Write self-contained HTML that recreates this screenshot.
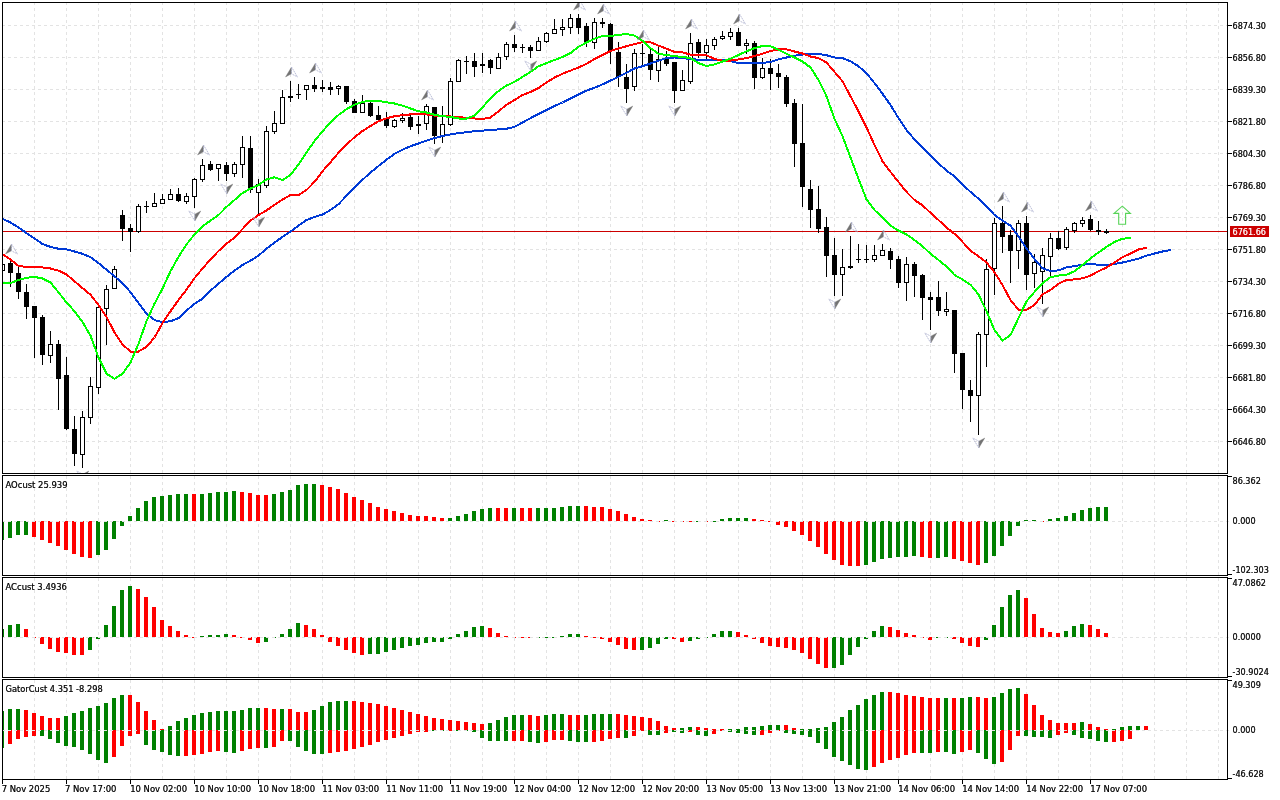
<!DOCTYPE html>
<html><head><meta charset="utf-8"><title>Chart</title>
<style>
html,body{margin:0;padding:0;background:#fff;}
body{width:1280px;height:800px;overflow:hidden;position:relative;}
svg{display:block;}
</style></head><body>
<svg width="1280" height="800" viewBox="0 0 1280 800" shape-rendering="crispEdges" style="position:absolute;left:0;top:0"><defs><clipPath id="cm"><rect x="3" y="3" width="1224" height="470"/></clipPath><clipPath id="c1"><rect x="3" y="476" width="1224" height="99"/></clipPath><clipPath id="c2"><rect x="3" y="578" width="1224" height="99"/></clipPath><clipPath id="c3"><rect x="3" y="680" width="1224" height="99"/></clipPath></defs><rect x="0" y="0" width="1280" height="800" fill="#fff"/><g stroke="#e3e3e3" stroke-width="1" fill="none"><line x1="34.5" y1="-4" x2="34.5" y2="473" stroke-dasharray="3 3" clip-path="url(#cm)"/><line x1="66.5" y1="-4" x2="66.5" y2="473" stroke-dasharray="3 3" clip-path="url(#cm)"/><line x1="98.5" y1="-4" x2="98.5" y2="473" stroke-dasharray="3 3" clip-path="url(#cm)"/><line x1="130.5" y1="-4" x2="130.5" y2="473" stroke-dasharray="3 3" clip-path="url(#cm)"/><line x1="162.5" y1="-4" x2="162.5" y2="473" stroke-dasharray="3 3" clip-path="url(#cm)"/><line x1="194.5" y1="-4" x2="194.5" y2="473" stroke-dasharray="3 3" clip-path="url(#cm)"/><line x1="226.5" y1="-4" x2="226.5" y2="473" stroke-dasharray="3 3" clip-path="url(#cm)"/><line x1="258.5" y1="-4" x2="258.5" y2="473" stroke-dasharray="3 3" clip-path="url(#cm)"/><line x1="290.5" y1="-4" x2="290.5" y2="473" stroke-dasharray="3 3" clip-path="url(#cm)"/><line x1="322.5" y1="-4" x2="322.5" y2="473" stroke-dasharray="3 3" clip-path="url(#cm)"/><line x1="354.5" y1="-4" x2="354.5" y2="473" stroke-dasharray="3 3" clip-path="url(#cm)"/><line x1="386.5" y1="-4" x2="386.5" y2="473" stroke-dasharray="3 3" clip-path="url(#cm)"/><line x1="418.5" y1="-4" x2="418.5" y2="473" stroke-dasharray="3 3" clip-path="url(#cm)"/><line x1="450.5" y1="-4" x2="450.5" y2="473" stroke-dasharray="3 3" clip-path="url(#cm)"/><line x1="482.5" y1="-4" x2="482.5" y2="473" stroke-dasharray="3 3" clip-path="url(#cm)"/><line x1="514.5" y1="-4" x2="514.5" y2="473" stroke-dasharray="3 3" clip-path="url(#cm)"/><line x1="546.5" y1="-4" x2="546.5" y2="473" stroke-dasharray="3 3" clip-path="url(#cm)"/><line x1="578.5" y1="-4" x2="578.5" y2="473" stroke-dasharray="3 3" clip-path="url(#cm)"/><line x1="610.5" y1="-4" x2="610.5" y2="473" stroke-dasharray="3 3" clip-path="url(#cm)"/><line x1="642.5" y1="-4" x2="642.5" y2="473" stroke-dasharray="3 3" clip-path="url(#cm)"/><line x1="674.5" y1="-4" x2="674.5" y2="473" stroke-dasharray="3 3" clip-path="url(#cm)"/><line x1="706.5" y1="-4" x2="706.5" y2="473" stroke-dasharray="3 3" clip-path="url(#cm)"/><line x1="738.5" y1="-4" x2="738.5" y2="473" stroke-dasharray="3 3" clip-path="url(#cm)"/><line x1="770.5" y1="-4" x2="770.5" y2="473" stroke-dasharray="3 3" clip-path="url(#cm)"/><line x1="802.5" y1="-4" x2="802.5" y2="473" stroke-dasharray="3 3" clip-path="url(#cm)"/><line x1="834.5" y1="-4" x2="834.5" y2="473" stroke-dasharray="3 3" clip-path="url(#cm)"/><line x1="866.5" y1="-4" x2="866.5" y2="473" stroke-dasharray="3 3" clip-path="url(#cm)"/><line x1="898.5" y1="-4" x2="898.5" y2="473" stroke-dasharray="3 3" clip-path="url(#cm)"/><line x1="930.5" y1="-4" x2="930.5" y2="473" stroke-dasharray="3 3" clip-path="url(#cm)"/><line x1="962.5" y1="-4" x2="962.5" y2="473" stroke-dasharray="3 3" clip-path="url(#cm)"/><line x1="994.5" y1="-4" x2="994.5" y2="473" stroke-dasharray="3 3" clip-path="url(#cm)"/><line x1="1026.5" y1="-4" x2="1026.5" y2="473" stroke-dasharray="3 3" clip-path="url(#cm)"/><line x1="1058.5" y1="-4" x2="1058.5" y2="473" stroke-dasharray="3 3" clip-path="url(#cm)"/><line x1="1090.5" y1="-4" x2="1090.5" y2="473" stroke-dasharray="3 3" clip-path="url(#cm)"/><line x1="1122.5" y1="-4" x2="1122.5" y2="473" stroke-dasharray="3 3" clip-path="url(#cm)"/><line x1="1154.5" y1="-4" x2="1154.5" y2="473" stroke-dasharray="3 3" clip-path="url(#cm)"/><line x1="1186.5" y1="-4" x2="1186.5" y2="473" stroke-dasharray="3 3" clip-path="url(#cm)"/><line x1="1218.5" y1="-4" x2="1218.5" y2="473" stroke-dasharray="3 3" clip-path="url(#cm)"/><line x1="34.5" y1="470" x2="34.5" y2="575" stroke-dasharray="3 3" clip-path="url(#c1)"/><line x1="66.5" y1="470" x2="66.5" y2="575" stroke-dasharray="3 3" clip-path="url(#c1)"/><line x1="98.5" y1="470" x2="98.5" y2="575" stroke-dasharray="3 3" clip-path="url(#c1)"/><line x1="130.5" y1="470" x2="130.5" y2="575" stroke-dasharray="3 3" clip-path="url(#c1)"/><line x1="162.5" y1="470" x2="162.5" y2="575" stroke-dasharray="3 3" clip-path="url(#c1)"/><line x1="194.5" y1="470" x2="194.5" y2="575" stroke-dasharray="3 3" clip-path="url(#c1)"/><line x1="226.5" y1="470" x2="226.5" y2="575" stroke-dasharray="3 3" clip-path="url(#c1)"/><line x1="258.5" y1="470" x2="258.5" y2="575" stroke-dasharray="3 3" clip-path="url(#c1)"/><line x1="290.5" y1="470" x2="290.5" y2="575" stroke-dasharray="3 3" clip-path="url(#c1)"/><line x1="322.5" y1="470" x2="322.5" y2="575" stroke-dasharray="3 3" clip-path="url(#c1)"/><line x1="354.5" y1="470" x2="354.5" y2="575" stroke-dasharray="3 3" clip-path="url(#c1)"/><line x1="386.5" y1="470" x2="386.5" y2="575" stroke-dasharray="3 3" clip-path="url(#c1)"/><line x1="418.5" y1="470" x2="418.5" y2="575" stroke-dasharray="3 3" clip-path="url(#c1)"/><line x1="450.5" y1="470" x2="450.5" y2="575" stroke-dasharray="3 3" clip-path="url(#c1)"/><line x1="482.5" y1="470" x2="482.5" y2="575" stroke-dasharray="3 3" clip-path="url(#c1)"/><line x1="514.5" y1="470" x2="514.5" y2="575" stroke-dasharray="3 3" clip-path="url(#c1)"/><line x1="546.5" y1="470" x2="546.5" y2="575" stroke-dasharray="3 3" clip-path="url(#c1)"/><line x1="578.5" y1="470" x2="578.5" y2="575" stroke-dasharray="3 3" clip-path="url(#c1)"/><line x1="610.5" y1="470" x2="610.5" y2="575" stroke-dasharray="3 3" clip-path="url(#c1)"/><line x1="642.5" y1="470" x2="642.5" y2="575" stroke-dasharray="3 3" clip-path="url(#c1)"/><line x1="674.5" y1="470" x2="674.5" y2="575" stroke-dasharray="3 3" clip-path="url(#c1)"/><line x1="706.5" y1="470" x2="706.5" y2="575" stroke-dasharray="3 3" clip-path="url(#c1)"/><line x1="738.5" y1="470" x2="738.5" y2="575" stroke-dasharray="3 3" clip-path="url(#c1)"/><line x1="770.5" y1="470" x2="770.5" y2="575" stroke-dasharray="3 3" clip-path="url(#c1)"/><line x1="802.5" y1="470" x2="802.5" y2="575" stroke-dasharray="3 3" clip-path="url(#c1)"/><line x1="834.5" y1="470" x2="834.5" y2="575" stroke-dasharray="3 3" clip-path="url(#c1)"/><line x1="866.5" y1="470" x2="866.5" y2="575" stroke-dasharray="3 3" clip-path="url(#c1)"/><line x1="898.5" y1="470" x2="898.5" y2="575" stroke-dasharray="3 3" clip-path="url(#c1)"/><line x1="930.5" y1="470" x2="930.5" y2="575" stroke-dasharray="3 3" clip-path="url(#c1)"/><line x1="962.5" y1="470" x2="962.5" y2="575" stroke-dasharray="3 3" clip-path="url(#c1)"/><line x1="994.5" y1="470" x2="994.5" y2="575" stroke-dasharray="3 3" clip-path="url(#c1)"/><line x1="1026.5" y1="470" x2="1026.5" y2="575" stroke-dasharray="3 3" clip-path="url(#c1)"/><line x1="1058.5" y1="470" x2="1058.5" y2="575" stroke-dasharray="3 3" clip-path="url(#c1)"/><line x1="1090.5" y1="470" x2="1090.5" y2="575" stroke-dasharray="3 3" clip-path="url(#c1)"/><line x1="1122.5" y1="470" x2="1122.5" y2="575" stroke-dasharray="3 3" clip-path="url(#c1)"/><line x1="1154.5" y1="470" x2="1154.5" y2="575" stroke-dasharray="3 3" clip-path="url(#c1)"/><line x1="1186.5" y1="470" x2="1186.5" y2="575" stroke-dasharray="3 3" clip-path="url(#c1)"/><line x1="1218.5" y1="470" x2="1218.5" y2="575" stroke-dasharray="3 3" clip-path="url(#c1)"/><line x1="34.5" y1="572" x2="34.5" y2="677" stroke-dasharray="3 3" clip-path="url(#c2)"/><line x1="66.5" y1="572" x2="66.5" y2="677" stroke-dasharray="3 3" clip-path="url(#c2)"/><line x1="98.5" y1="572" x2="98.5" y2="677" stroke-dasharray="3 3" clip-path="url(#c2)"/><line x1="130.5" y1="572" x2="130.5" y2="677" stroke-dasharray="3 3" clip-path="url(#c2)"/><line x1="162.5" y1="572" x2="162.5" y2="677" stroke-dasharray="3 3" clip-path="url(#c2)"/><line x1="194.5" y1="572" x2="194.5" y2="677" stroke-dasharray="3 3" clip-path="url(#c2)"/><line x1="226.5" y1="572" x2="226.5" y2="677" stroke-dasharray="3 3" clip-path="url(#c2)"/><line x1="258.5" y1="572" x2="258.5" y2="677" stroke-dasharray="3 3" clip-path="url(#c2)"/><line x1="290.5" y1="572" x2="290.5" y2="677" stroke-dasharray="3 3" clip-path="url(#c2)"/><line x1="322.5" y1="572" x2="322.5" y2="677" stroke-dasharray="3 3" clip-path="url(#c2)"/><line x1="354.5" y1="572" x2="354.5" y2="677" stroke-dasharray="3 3" clip-path="url(#c2)"/><line x1="386.5" y1="572" x2="386.5" y2="677" stroke-dasharray="3 3" clip-path="url(#c2)"/><line x1="418.5" y1="572" x2="418.5" y2="677" stroke-dasharray="3 3" clip-path="url(#c2)"/><line x1="450.5" y1="572" x2="450.5" y2="677" stroke-dasharray="3 3" clip-path="url(#c2)"/><line x1="482.5" y1="572" x2="482.5" y2="677" stroke-dasharray="3 3" clip-path="url(#c2)"/><line x1="514.5" y1="572" x2="514.5" y2="677" stroke-dasharray="3 3" clip-path="url(#c2)"/><line x1="546.5" y1="572" x2="546.5" y2="677" stroke-dasharray="3 3" clip-path="url(#c2)"/><line x1="578.5" y1="572" x2="578.5" y2="677" stroke-dasharray="3 3" clip-path="url(#c2)"/><line x1="610.5" y1="572" x2="610.5" y2="677" stroke-dasharray="3 3" clip-path="url(#c2)"/><line x1="642.5" y1="572" x2="642.5" y2="677" stroke-dasharray="3 3" clip-path="url(#c2)"/><line x1="674.5" y1="572" x2="674.5" y2="677" stroke-dasharray="3 3" clip-path="url(#c2)"/><line x1="706.5" y1="572" x2="706.5" y2="677" stroke-dasharray="3 3" clip-path="url(#c2)"/><line x1="738.5" y1="572" x2="738.5" y2="677" stroke-dasharray="3 3" clip-path="url(#c2)"/><line x1="770.5" y1="572" x2="770.5" y2="677" stroke-dasharray="3 3" clip-path="url(#c2)"/><line x1="802.5" y1="572" x2="802.5" y2="677" stroke-dasharray="3 3" clip-path="url(#c2)"/><line x1="834.5" y1="572" x2="834.5" y2="677" stroke-dasharray="3 3" clip-path="url(#c2)"/><line x1="866.5" y1="572" x2="866.5" y2="677" stroke-dasharray="3 3" clip-path="url(#c2)"/><line x1="898.5" y1="572" x2="898.5" y2="677" stroke-dasharray="3 3" clip-path="url(#c2)"/><line x1="930.5" y1="572" x2="930.5" y2="677" stroke-dasharray="3 3" clip-path="url(#c2)"/><line x1="962.5" y1="572" x2="962.5" y2="677" stroke-dasharray="3 3" clip-path="url(#c2)"/><line x1="994.5" y1="572" x2="994.5" y2="677" stroke-dasharray="3 3" clip-path="url(#c2)"/><line x1="1026.5" y1="572" x2="1026.5" y2="677" stroke-dasharray="3 3" clip-path="url(#c2)"/><line x1="1058.5" y1="572" x2="1058.5" y2="677" stroke-dasharray="3 3" clip-path="url(#c2)"/><line x1="1090.5" y1="572" x2="1090.5" y2="677" stroke-dasharray="3 3" clip-path="url(#c2)"/><line x1="1122.5" y1="572" x2="1122.5" y2="677" stroke-dasharray="3 3" clip-path="url(#c2)"/><line x1="1154.5" y1="572" x2="1154.5" y2="677" stroke-dasharray="3 3" clip-path="url(#c2)"/><line x1="1186.5" y1="572" x2="1186.5" y2="677" stroke-dasharray="3 3" clip-path="url(#c2)"/><line x1="1218.5" y1="572" x2="1218.5" y2="677" stroke-dasharray="3 3" clip-path="url(#c2)"/><line x1="34.5" y1="674" x2="34.5" y2="779" stroke-dasharray="3 3" clip-path="url(#c3)"/><line x1="66.5" y1="674" x2="66.5" y2="779" stroke-dasharray="3 3" clip-path="url(#c3)"/><line x1="98.5" y1="674" x2="98.5" y2="779" stroke-dasharray="3 3" clip-path="url(#c3)"/><line x1="130.5" y1="674" x2="130.5" y2="779" stroke-dasharray="3 3" clip-path="url(#c3)"/><line x1="162.5" y1="674" x2="162.5" y2="779" stroke-dasharray="3 3" clip-path="url(#c3)"/><line x1="194.5" y1="674" x2="194.5" y2="779" stroke-dasharray="3 3" clip-path="url(#c3)"/><line x1="226.5" y1="674" x2="226.5" y2="779" stroke-dasharray="3 3" clip-path="url(#c3)"/><line x1="258.5" y1="674" x2="258.5" y2="779" stroke-dasharray="3 3" clip-path="url(#c3)"/><line x1="290.5" y1="674" x2="290.5" y2="779" stroke-dasharray="3 3" clip-path="url(#c3)"/><line x1="322.5" y1="674" x2="322.5" y2="779" stroke-dasharray="3 3" clip-path="url(#c3)"/><line x1="354.5" y1="674" x2="354.5" y2="779" stroke-dasharray="3 3" clip-path="url(#c3)"/><line x1="386.5" y1="674" x2="386.5" y2="779" stroke-dasharray="3 3" clip-path="url(#c3)"/><line x1="418.5" y1="674" x2="418.5" y2="779" stroke-dasharray="3 3" clip-path="url(#c3)"/><line x1="450.5" y1="674" x2="450.5" y2="779" stroke-dasharray="3 3" clip-path="url(#c3)"/><line x1="482.5" y1="674" x2="482.5" y2="779" stroke-dasharray="3 3" clip-path="url(#c3)"/><line x1="514.5" y1="674" x2="514.5" y2="779" stroke-dasharray="3 3" clip-path="url(#c3)"/><line x1="546.5" y1="674" x2="546.5" y2="779" stroke-dasharray="3 3" clip-path="url(#c3)"/><line x1="578.5" y1="674" x2="578.5" y2="779" stroke-dasharray="3 3" clip-path="url(#c3)"/><line x1="610.5" y1="674" x2="610.5" y2="779" stroke-dasharray="3 3" clip-path="url(#c3)"/><line x1="642.5" y1="674" x2="642.5" y2="779" stroke-dasharray="3 3" clip-path="url(#c3)"/><line x1="674.5" y1="674" x2="674.5" y2="779" stroke-dasharray="3 3" clip-path="url(#c3)"/><line x1="706.5" y1="674" x2="706.5" y2="779" stroke-dasharray="3 3" clip-path="url(#c3)"/><line x1="738.5" y1="674" x2="738.5" y2="779" stroke-dasharray="3 3" clip-path="url(#c3)"/><line x1="770.5" y1="674" x2="770.5" y2="779" stroke-dasharray="3 3" clip-path="url(#c3)"/><line x1="802.5" y1="674" x2="802.5" y2="779" stroke-dasharray="3 3" clip-path="url(#c3)"/><line x1="834.5" y1="674" x2="834.5" y2="779" stroke-dasharray="3 3" clip-path="url(#c3)"/><line x1="866.5" y1="674" x2="866.5" y2="779" stroke-dasharray="3 3" clip-path="url(#c3)"/><line x1="898.5" y1="674" x2="898.5" y2="779" stroke-dasharray="3 3" clip-path="url(#c3)"/><line x1="930.5" y1="674" x2="930.5" y2="779" stroke-dasharray="3 3" clip-path="url(#c3)"/><line x1="962.5" y1="674" x2="962.5" y2="779" stroke-dasharray="3 3" clip-path="url(#c3)"/><line x1="994.5" y1="674" x2="994.5" y2="779" stroke-dasharray="3 3" clip-path="url(#c3)"/><line x1="1026.5" y1="674" x2="1026.5" y2="779" stroke-dasharray="3 3" clip-path="url(#c3)"/><line x1="1058.5" y1="674" x2="1058.5" y2="779" stroke-dasharray="3 3" clip-path="url(#c3)"/><line x1="1090.5" y1="674" x2="1090.5" y2="779" stroke-dasharray="3 3" clip-path="url(#c3)"/><line x1="1122.5" y1="674" x2="1122.5" y2="779" stroke-dasharray="3 3" clip-path="url(#c3)"/><line x1="1154.5" y1="674" x2="1154.5" y2="779" stroke-dasharray="3 3" clip-path="url(#c3)"/><line x1="1186.5" y1="674" x2="1186.5" y2="779" stroke-dasharray="3 3" clip-path="url(#c3)"/><line x1="1218.5" y1="674" x2="1218.5" y2="779" stroke-dasharray="3 3" clip-path="url(#c3)"/><line x1="2" y1="25.5" x2="1227" y2="25.5" stroke-dasharray="3 3" clip-path="url(#cm)"/><line x1="2" y1="57.5" x2="1227" y2="57.5" stroke-dasharray="3 3" clip-path="url(#cm)"/><line x1="2" y1="89.5" x2="1227" y2="89.5" stroke-dasharray="3 3" clip-path="url(#cm)"/><line x1="2" y1="121.5" x2="1227" y2="121.5" stroke-dasharray="3 3" clip-path="url(#cm)"/><line x1="2" y1="153.5" x2="1227" y2="153.5" stroke-dasharray="3 3" clip-path="url(#cm)"/><line x1="2" y1="185.5" x2="1227" y2="185.5" stroke-dasharray="3 3" clip-path="url(#cm)"/><line x1="2" y1="217.5" x2="1227" y2="217.5" stroke-dasharray="3 3" clip-path="url(#cm)"/><line x1="2" y1="249.5" x2="1227" y2="249.5" stroke-dasharray="3 3" clip-path="url(#cm)"/><line x1="2" y1="281.5" x2="1227" y2="281.5" stroke-dasharray="3 3" clip-path="url(#cm)"/><line x1="2" y1="313.5" x2="1227" y2="313.5" stroke-dasharray="3 3" clip-path="url(#cm)"/><line x1="2" y1="345.5" x2="1227" y2="345.5" stroke-dasharray="3 3" clip-path="url(#cm)"/><line x1="2" y1="377.5" x2="1227" y2="377.5" stroke-dasharray="3 3" clip-path="url(#cm)"/><line x1="2" y1="409.5" x2="1227" y2="409.5" stroke-dasharray="3 3" clip-path="url(#cm)"/><line x1="2" y1="441.5" x2="1227" y2="441.5" stroke-dasharray="3 3" clip-path="url(#cm)"/></g><rect x="3" y="231" width="1224" height="1" fill="#cc0000"/><g clip-path="url(#cm)"><rect x="2" y="262" width="1" height="11" fill="#000"/><rect x="0" y="264" width="5" height="7" fill="#000"/><rect x="1" y="265" width="3" height="5" fill="#fff"/><rect x="10" y="258" width="1" height="29" fill="#000"/><rect x="8" y="263" width="5" height="10" fill="#000"/><rect x="18" y="267" width="1" height="32" fill="#000"/><rect x="16" y="273" width="5" height="19" fill="#000"/><rect x="26" y="284" width="1" height="35" fill="#000"/><rect x="24" y="292" width="5" height="15" fill="#000"/><rect x="34" y="306" width="1" height="52" fill="#000"/><rect x="32" y="306" width="5" height="12" fill="#000"/><rect x="42" y="315" width="1" height="50" fill="#000"/><rect x="40" y="317" width="5" height="38" fill="#000"/><rect x="50" y="331" width="1" height="32" fill="#000"/><rect x="48" y="344" width="5" height="12" fill="#000"/><rect x="49" y="345" width="3" height="10" fill="#fff"/><rect x="58" y="340" width="1" height="70" fill="#000"/><rect x="56" y="344" width="5" height="35" fill="#000"/><rect x="66" y="357" width="1" height="73" fill="#000"/><rect x="64" y="375" width="5" height="54" fill="#000"/><rect x="74" y="416" width="1" height="50" fill="#000"/><rect x="72" y="429" width="5" height="25" fill="#000"/><rect x="82" y="411" width="1" height="57" fill="#000"/><rect x="80" y="417" width="5" height="38" fill="#000"/><rect x="81" y="418" width="3" height="36" fill="#fff"/><rect x="90" y="377" width="1" height="47" fill="#000"/><rect x="88" y="386" width="5" height="32" fill="#000"/><rect x="89" y="387" width="3" height="30" fill="#fff"/><rect x="98" y="307" width="1" height="87" fill="#000"/><rect x="96" y="307" width="5" height="81" fill="#000"/><rect x="97" y="308" width="3" height="79" fill="#fff"/><rect x="106" y="285" width="1" height="60" fill="#000"/><rect x="104" y="289" width="5" height="20" fill="#000"/><rect x="105" y="290" width="3" height="18" fill="#fff"/><rect x="114" y="266" width="1" height="23" fill="#000"/><rect x="112" y="269" width="5" height="20" fill="#000"/><rect x="113" y="270" width="3" height="18" fill="#fff"/><rect x="122" y="210" width="1" height="31" fill="#000"/><rect x="120" y="215" width="5" height="14" fill="#000"/><rect x="130" y="224" width="1" height="28" fill="#000"/><rect x="128" y="228" width="5" height="4" fill="#000"/><rect x="138" y="204" width="1" height="29" fill="#000"/><rect x="136" y="206" width="5" height="26" fill="#000"/><rect x="137" y="207" width="3" height="24" fill="#fff"/><rect x="146" y="201" width="1" height="12" fill="#000"/><rect x="144" y="206" width="5" height="1" fill="#000"/><rect x="154" y="193" width="1" height="14" fill="#000"/><rect x="152" y="203" width="5" height="4" fill="#000"/><rect x="153" y="204" width="3" height="2" fill="#fff"/><rect x="162" y="194" width="1" height="10" fill="#000"/><rect x="160" y="199" width="5" height="5" fill="#000"/><rect x="161" y="200" width="3" height="3" fill="#fff"/><rect x="170" y="189" width="1" height="11" fill="#000"/><rect x="168" y="194" width="5" height="6" fill="#000"/><rect x="169" y="195" width="3" height="4" fill="#fff"/><rect x="178" y="188" width="1" height="14" fill="#000"/><rect x="176" y="194" width="5" height="7" fill="#000"/><rect x="186" y="193" width="1" height="11" fill="#000"/><rect x="184" y="196" width="5" height="6" fill="#000"/><rect x="185" y="197" width="3" height="4" fill="#fff"/><rect x="194" y="178" width="1" height="30" fill="#000"/><rect x="192" y="179" width="5" height="18" fill="#000"/><rect x="193" y="180" width="3" height="16" fill="#fff"/><rect x="202" y="159" width="1" height="23" fill="#000"/><rect x="200" y="165" width="5" height="15" fill="#000"/><rect x="201" y="166" width="3" height="13" fill="#fff"/><rect x="210" y="161" width="1" height="10" fill="#000"/><rect x="208" y="164" width="5" height="6" fill="#000"/><rect x="218" y="164" width="1" height="17" fill="#000"/><rect x="216" y="164" width="5" height="5" fill="#000"/><rect x="217" y="165" width="3" height="3" fill="#fff"/><rect x="226" y="162" width="1" height="19" fill="#000"/><rect x="224" y="165" width="5" height="9" fill="#000"/><rect x="234" y="162" width="1" height="15" fill="#000"/><rect x="232" y="164" width="5" height="10" fill="#000"/><rect x="233" y="165" width="3" height="8" fill="#fff"/><rect x="242" y="136" width="1" height="42" fill="#000"/><rect x="240" y="147" width="5" height="18" fill="#000"/><rect x="241" y="148" width="3" height="16" fill="#fff"/><rect x="250" y="136" width="1" height="57" fill="#000"/><rect x="248" y="148" width="5" height="42" fill="#000"/><rect x="258" y="179" width="1" height="35" fill="#000"/><rect x="256" y="184" width="5" height="9" fill="#000"/><rect x="257" y="185" width="3" height="7" fill="#fff"/><rect x="266" y="126" width="1" height="62" fill="#000"/><rect x="264" y="131" width="5" height="55" fill="#000"/><rect x="265" y="132" width="3" height="53" fill="#fff"/><rect x="274" y="111" width="1" height="23" fill="#000"/><rect x="272" y="123" width="5" height="9" fill="#000"/><rect x="273" y="124" width="3" height="7" fill="#fff"/><rect x="282" y="90" width="1" height="34" fill="#000"/><rect x="280" y="97" width="5" height="27" fill="#000"/><rect x="281" y="98" width="3" height="25" fill="#fff"/><rect x="290" y="81" width="1" height="21" fill="#000"/><rect x="288" y="96" width="5" height="2" fill="#000"/><rect x="298" y="84" width="1" height="15" fill="#000"/><rect x="296" y="94" width="5" height="1" fill="#000"/><rect x="306" y="85" width="1" height="15" fill="#000"/><rect x="304" y="85" width="5" height="5" fill="#000"/><rect x="305" y="86" width="3" height="3" fill="#fff"/><rect x="314" y="77" width="1" height="15" fill="#000"/><rect x="312" y="85" width="5" height="4" fill="#000"/><rect x="322" y="80" width="1" height="12" fill="#000"/><rect x="320" y="87" width="5" height="2" fill="#000"/><rect x="330" y="82" width="1" height="13" fill="#000"/><rect x="328" y="87" width="5" height="3" fill="#000"/><rect x="338" y="85" width="1" height="10" fill="#000"/><rect x="336" y="86" width="5" height="3" fill="#000"/><rect x="337" y="87" width="3" height="1" fill="#fff"/><rect x="346" y="86" width="1" height="18" fill="#000"/><rect x="344" y="86" width="5" height="16" fill="#000"/><rect x="354" y="99" width="1" height="14" fill="#000"/><rect x="352" y="101" width="5" height="12" fill="#000"/><rect x="362" y="95" width="1" height="18" fill="#000"/><rect x="360" y="103" width="5" height="10" fill="#000"/><rect x="361" y="104" width="3" height="8" fill="#fff"/><rect x="370" y="102" width="1" height="15" fill="#000"/><rect x="368" y="103" width="5" height="13" fill="#000"/><rect x="378" y="106" width="1" height="15" fill="#000"/><rect x="376" y="115" width="5" height="5" fill="#000"/><rect x="386" y="112" width="1" height="16" fill="#000"/><rect x="384" y="119" width="5" height="7" fill="#000"/><rect x="394" y="119" width="1" height="9" fill="#000"/><rect x="392" y="120" width="5" height="7" fill="#000"/><rect x="393" y="121" width="3" height="5" fill="#fff"/><rect x="402" y="113" width="1" height="10" fill="#000"/><rect x="400" y="118" width="5" height="3" fill="#000"/><rect x="401" y="119" width="3" height="1" fill="#fff"/><rect x="410" y="113" width="1" height="17" fill="#000"/><rect x="408" y="117" width="5" height="10" fill="#000"/><rect x="418" y="116" width="1" height="18" fill="#000"/><rect x="416" y="124" width="5" height="2" fill="#000"/><rect x="426" y="104" width="1" height="26" fill="#000"/><rect x="424" y="106" width="5" height="18" fill="#000"/><rect x="425" y="107" width="3" height="16" fill="#fff"/><rect x="434" y="107" width="1" height="37" fill="#000"/><rect x="432" y="107" width="5" height="29" fill="#000"/><rect x="442" y="106" width="1" height="37" fill="#000"/><rect x="440" y="124" width="5" height="12" fill="#000"/><rect x="441" y="125" width="3" height="10" fill="#fff"/><rect x="450" y="78" width="1" height="48" fill="#000"/><rect x="448" y="81" width="5" height="44" fill="#000"/><rect x="449" y="82" width="3" height="42" fill="#fff"/><rect x="458" y="59" width="1" height="23" fill="#000"/><rect x="456" y="60" width="5" height="22" fill="#000"/><rect x="457" y="61" width="3" height="20" fill="#fff"/><rect x="466" y="56" width="1" height="18" fill="#000"/><rect x="464" y="61" width="5" height="1" fill="#000"/><rect x="474" y="53" width="1" height="24" fill="#000"/><rect x="472" y="61" width="5" height="6" fill="#000"/><rect x="482" y="53" width="1" height="20" fill="#000"/><rect x="480" y="64" width="5" height="2" fill="#000"/><rect x="490" y="59" width="1" height="15" fill="#000"/><rect x="488" y="60" width="5" height="8" fill="#000"/><rect x="498" y="53" width="1" height="16" fill="#000"/><rect x="496" y="57" width="5" height="12" fill="#000"/><rect x="497" y="58" width="3" height="10" fill="#fff"/><rect x="506" y="42" width="1" height="18" fill="#000"/><rect x="504" y="44" width="5" height="13" fill="#000"/><rect x="505" y="45" width="3" height="11" fill="#fff"/><rect x="514" y="35" width="1" height="17" fill="#000"/><rect x="512" y="44" width="5" height="4" fill="#000"/><rect x="522" y="44" width="1" height="9" fill="#000"/><rect x="520" y="47" width="5" height="1" fill="#000"/><rect x="530" y="45" width="1" height="13" fill="#000"/><rect x="528" y="47" width="5" height="4" fill="#000"/><rect x="538" y="37" width="1" height="14" fill="#000"/><rect x="536" y="41" width="5" height="10" fill="#000"/><rect x="537" y="42" width="3" height="8" fill="#fff"/><rect x="546" y="32" width="1" height="11" fill="#000"/><rect x="544" y="33" width="5" height="9" fill="#000"/><rect x="545" y="34" width="3" height="7" fill="#fff"/><rect x="554" y="19" width="1" height="15" fill="#000"/><rect x="552" y="29" width="5" height="5" fill="#000"/><rect x="553" y="30" width="3" height="3" fill="#fff"/><rect x="562" y="19" width="1" height="17" fill="#000"/><rect x="560" y="27" width="5" height="3" fill="#000"/><rect x="561" y="28" width="3" height="1" fill="#fff"/><rect x="570" y="14" width="1" height="20" fill="#000"/><rect x="568" y="18" width="5" height="10" fill="#000"/><rect x="569" y="19" width="3" height="8" fill="#fff"/><rect x="578" y="14" width="1" height="20" fill="#000"/><rect x="576" y="18" width="5" height="10" fill="#000"/><rect x="586" y="23" width="1" height="24" fill="#000"/><rect x="584" y="26" width="5" height="17" fill="#000"/><rect x="594" y="18" width="1" height="31" fill="#000"/><rect x="592" y="22" width="5" height="21" fill="#000"/><rect x="593" y="23" width="3" height="19" fill="#fff"/><rect x="602" y="18" width="1" height="10" fill="#000"/><rect x="600" y="22" width="5" height="2" fill="#000"/><rect x="610" y="23" width="1" height="41" fill="#000"/><rect x="608" y="24" width="5" height="27" fill="#000"/><rect x="618" y="42" width="1" height="45" fill="#000"/><rect x="616" y="52" width="5" height="25" fill="#000"/><rect x="626" y="64" width="1" height="39" fill="#000"/><rect x="624" y="77" width="5" height="12" fill="#000"/><rect x="634" y="49" width="1" height="42" fill="#000"/><rect x="632" y="53" width="5" height="34" fill="#000"/><rect x="633" y="54" width="3" height="32" fill="#fff"/><rect x="642" y="44" width="1" height="22" fill="#000"/><rect x="640" y="53" width="5" height="1" fill="#000"/><rect x="650" y="47" width="1" height="33" fill="#000"/><rect x="648" y="54" width="5" height="16" fill="#000"/><rect x="658" y="47" width="1" height="35" fill="#000"/><rect x="656" y="59" width="5" height="12" fill="#000"/><rect x="657" y="60" width="3" height="10" fill="#fff"/><rect x="666" y="51" width="1" height="15" fill="#000"/><rect x="664" y="59" width="5" height="5" fill="#000"/><rect x="674" y="62" width="1" height="41" fill="#000"/><rect x="672" y="62" width="5" height="29" fill="#000"/><rect x="682" y="70" width="1" height="21" fill="#000"/><rect x="680" y="80" width="5" height="11" fill="#000"/><rect x="681" y="81" width="3" height="9" fill="#fff"/><rect x="690" y="33" width="1" height="51" fill="#000"/><rect x="688" y="43" width="5" height="39" fill="#000"/><rect x="689" y="44" width="3" height="37" fill="#fff"/><rect x="698" y="39" width="1" height="19" fill="#000"/><rect x="696" y="42" width="5" height="11" fill="#000"/><rect x="706" y="39" width="1" height="20" fill="#000"/><rect x="704" y="45" width="5" height="8" fill="#000"/><rect x="705" y="46" width="3" height="6" fill="#fff"/><rect x="714" y="37" width="1" height="13" fill="#000"/><rect x="712" y="39" width="5" height="7" fill="#000"/><rect x="713" y="40" width="3" height="5" fill="#fff"/><rect x="722" y="31" width="1" height="9" fill="#000"/><rect x="720" y="36" width="5" height="3" fill="#000"/><rect x="721" y="37" width="3" height="1" fill="#fff"/><rect x="730" y="28" width="1" height="12" fill="#000"/><rect x="728" y="32" width="5" height="5" fill="#000"/><rect x="729" y="33" width="3" height="3" fill="#fff"/><rect x="738" y="28" width="1" height="18" fill="#000"/><rect x="736" y="32" width="5" height="14" fill="#000"/><rect x="746" y="39" width="1" height="15" fill="#000"/><rect x="744" y="43" width="5" height="3" fill="#000"/><rect x="745" y="44" width="3" height="1" fill="#fff"/><rect x="754" y="41" width="1" height="48" fill="#000"/><rect x="752" y="43" width="5" height="35" fill="#000"/><rect x="762" y="58" width="1" height="21" fill="#000"/><rect x="760" y="68" width="5" height="10" fill="#000"/><rect x="761" y="69" width="3" height="8" fill="#fff"/><rect x="770" y="59" width="1" height="31" fill="#000"/><rect x="768" y="68" width="5" height="6" fill="#000"/><rect x="778" y="64" width="1" height="24" fill="#000"/><rect x="776" y="73" width="5" height="4" fill="#000"/><rect x="786" y="75" width="1" height="32" fill="#000"/><rect x="784" y="77" width="5" height="27" fill="#000"/><rect x="794" y="99" width="1" height="68" fill="#000"/><rect x="792" y="103" width="5" height="41" fill="#000"/><rect x="802" y="104" width="1" height="103" fill="#000"/><rect x="800" y="143" width="5" height="44" fill="#000"/><rect x="810" y="180" width="1" height="48" fill="#000"/><rect x="808" y="189" width="5" height="21" fill="#000"/><rect x="818" y="186" width="1" height="47" fill="#000"/><rect x="816" y="209" width="5" height="20" fill="#000"/><rect x="826" y="217" width="1" height="60" fill="#000"/><rect x="824" y="227" width="5" height="29" fill="#000"/><rect x="834" y="238" width="1" height="58" fill="#000"/><rect x="832" y="255" width="5" height="20" fill="#000"/><rect x="842" y="249" width="1" height="47" fill="#000"/><rect x="840" y="267" width="5" height="8" fill="#000"/><rect x="841" y="268" width="3" height="6" fill="#fff"/><rect x="850" y="236" width="1" height="33" fill="#000"/><rect x="848" y="266" width="5" height="2" fill="#000"/><rect x="858" y="244" width="1" height="19" fill="#000"/><rect x="856" y="259" width="5" height="1" fill="#000"/><rect x="866" y="245" width="1" height="18" fill="#000"/><rect x="864" y="259" width="5" height="1" fill="#000"/><rect x="874" y="245" width="1" height="17" fill="#000"/><rect x="872" y="255" width="5" height="5" fill="#000"/><rect x="873" y="256" width="3" height="3" fill="#fff"/><rect x="882" y="244" width="1" height="12" fill="#000"/><rect x="880" y="250" width="5" height="6" fill="#000"/><rect x="881" y="251" width="3" height="4" fill="#fff"/><rect x="890" y="248" width="1" height="21" fill="#000"/><rect x="888" y="251" width="5" height="9" fill="#000"/><rect x="898" y="256" width="1" height="32" fill="#000"/><rect x="896" y="259" width="5" height="24" fill="#000"/><rect x="906" y="257" width="1" height="44" fill="#000"/><rect x="904" y="264" width="5" height="19" fill="#000"/><rect x="905" y="265" width="3" height="17" fill="#fff"/><rect x="914" y="262" width="1" height="35" fill="#000"/><rect x="912" y="264" width="5" height="12" fill="#000"/><rect x="922" y="274" width="1" height="46" fill="#000"/><rect x="920" y="275" width="5" height="23" fill="#000"/><rect x="930" y="292" width="1" height="38" fill="#000"/><rect x="928" y="297" width="5" height="3" fill="#000"/><rect x="938" y="281" width="1" height="35" fill="#000"/><rect x="936" y="297" width="5" height="14" fill="#000"/><rect x="946" y="292" width="1" height="24" fill="#000"/><rect x="944" y="309" width="5" height="3" fill="#000"/><rect x="945" y="310" width="3" height="1" fill="#fff"/><rect x="954" y="310" width="1" height="63" fill="#000"/><rect x="952" y="310" width="5" height="44" fill="#000"/><rect x="962" y="353" width="1" height="56" fill="#000"/><rect x="960" y="353" width="5" height="37" fill="#000"/><rect x="970" y="380" width="1" height="42" fill="#000"/><rect x="968" y="390" width="5" height="6" fill="#000"/><rect x="978" y="332" width="1" height="103" fill="#000"/><rect x="976" y="334" width="5" height="62" fill="#000"/><rect x="977" y="335" width="3" height="60" fill="#fff"/><rect x="986" y="259" width="1" height="108" fill="#000"/><rect x="984" y="269" width="5" height="66" fill="#000"/><rect x="985" y="270" width="3" height="64" fill="#fff"/><rect x="994" y="218" width="1" height="77" fill="#000"/><rect x="992" y="223" width="5" height="46" fill="#000"/><rect x="993" y="224" width="3" height="44" fill="#fff"/><rect x="1002" y="206" width="1" height="47" fill="#000"/><rect x="1000" y="223" width="5" height="14" fill="#000"/><rect x="1010" y="230" width="1" height="53" fill="#000"/><rect x="1008" y="235" width="5" height="16" fill="#000"/><rect x="1018" y="220" width="1" height="49" fill="#000"/><rect x="1016" y="223" width="5" height="28" fill="#000"/><rect x="1017" y="224" width="3" height="26" fill="#fff"/><rect x="1026" y="216" width="1" height="74" fill="#000"/><rect x="1024" y="223" width="5" height="52" fill="#000"/><rect x="1034" y="254" width="1" height="34" fill="#000"/><rect x="1032" y="262" width="5" height="12" fill="#000"/><rect x="1033" y="263" width="3" height="10" fill="#fff"/><rect x="1042" y="248" width="1" height="56" fill="#000"/><rect x="1040" y="255" width="5" height="17" fill="#000"/><rect x="1041" y="256" width="3" height="15" fill="#fff"/><rect x="1050" y="233" width="1" height="43" fill="#000"/><rect x="1048" y="238" width="5" height="19" fill="#000"/><rect x="1049" y="239" width="3" height="17" fill="#fff"/><rect x="1058" y="231" width="1" height="19" fill="#000"/><rect x="1056" y="238" width="5" height="11" fill="#000"/><rect x="1066" y="227" width="1" height="23" fill="#000"/><rect x="1064" y="229" width="5" height="19" fill="#000"/><rect x="1065" y="230" width="3" height="17" fill="#fff"/><rect x="1074" y="222" width="1" height="11" fill="#000"/><rect x="1072" y="223" width="5" height="8" fill="#000"/><rect x="1073" y="224" width="3" height="6" fill="#fff"/><rect x="1082" y="217" width="1" height="10" fill="#000"/><rect x="1080" y="220" width="5" height="4" fill="#000"/><rect x="1081" y="221" width="3" height="2" fill="#fff"/><rect x="1090" y="215" width="1" height="16" fill="#000"/><rect x="1088" y="219" width="5" height="11" fill="#000"/><rect x="1098" y="221" width="1" height="14" fill="#000"/><rect x="1096" y="230" width="5" height="2" fill="#000"/><rect x="1106" y="229" width="1" height="5" fill="#000"/><rect x="1104" y="231" width="5" height="2" fill="#000"/></g><g clip-path="url(#cm)"><polyline points="2.0,218.50 10.5,222.50 18.5,227.50 26.5,233.10 34.5,238.50 42.5,244.00 50.5,246.90 58.5,248.75 66.5,249.40 74.5,251.50 82.5,253.75 90.5,257.25 98.5,263.10 106.5,269.75 114.5,276.25 122.5,283.10 130.5,292.20 138.5,303.10 146.5,313.75 154.5,320.00 162.5,322.25 170.5,321.25 178.5,318.10 186.5,310.60 194.5,303.75 202.5,298.75 210.5,290.60 218.5,283.75 226.5,276.90 234.5,270.60 242.5,265.00 250.5,260.60 258.5,255.60 266.5,248.75 274.5,242.50 282.5,236.90 290.5,231.50 298.5,225.60 306.5,220.00 314.5,216.90 322.5,214.50 330.5,210.00 338.5,204.20 346.5,195.80 354.5,187.50 362.5,179.80 370.5,172.50 378.5,166.00 386.5,159.70 394.5,153.90 402.5,149.60 410.5,146.25 418.5,143.50 426.5,140.60 434.5,138.10 442.5,136.00 450.5,134.40 458.5,133.10 466.5,132.25 474.5,131.25 482.5,130.60 490.5,130.00 498.5,129.40 506.5,128.75 514.5,126.90 522.5,122.50 530.5,118.10 538.5,114.00 546.5,110.00 554.5,106.00 562.5,102.50 570.5,98.50 578.5,94.40 586.5,90.60 594.5,87.75 602.5,84.40 610.5,80.60 618.5,76.90 626.5,72.75 634.5,68.50 642.5,66.25 650.5,63.50 658.5,60.60 666.5,58.10 674.5,57.50 682.5,58.10 690.5,59.00 698.5,59.75 706.5,59.75 714.5,59.75 722.5,59.75 730.5,61.25 738.5,63.00 746.5,63.00 754.5,63.00 762.5,63.00 770.5,62.00 778.5,59.40 786.5,57.50 794.5,55.80 802.5,54.50 810.5,54.00 818.5,54.00 826.5,55.25 834.5,57.50 842.5,58.10 850.5,61.25 858.5,66.25 866.5,73.10 874.5,83.10 882.5,93.75 890.5,105.00 898.5,118.10 906.5,130.00 914.5,139.40 922.5,147.50 930.5,155.60 938.5,163.50 946.5,170.60 954.5,176.25 962.5,184.40 970.5,191.90 978.5,198.75 986.5,206.25 994.5,215.00 1002.5,220.60 1010.5,225.60 1018.5,236.25 1026.5,248.50 1034.5,259.00 1042.5,268.20 1050.5,271.00 1058.5,270.40 1066.5,267.40 1074.5,266.10 1082.5,264.75 1090.5,263.90 1098.5,264.75 1106.5,265.00 1114.5,264.00 1122.5,262.50 1130.5,260.60 1138.5,258.75 1146.5,255.60 1154.5,253.50 1162.5,251.50 1171.0,250.00" fill="none" stroke="#003ad6" stroke-width="2" stroke-linejoin="round"/><polyline points="2.0,254.00 10.5,259.40 18.5,266.00 26.5,266.90 34.5,266.90 42.5,267.50 50.5,268.50 58.5,270.60 66.5,274.40 74.5,281.25 82.5,288.10 90.5,294.70 98.5,305.00 106.5,316.90 114.5,332.50 122.5,344.40 130.5,351.50 138.5,351.50 146.5,346.90 154.5,337.50 162.5,323.10 170.5,311.25 178.5,300.00 186.5,289.60 194.5,278.10 202.5,268.50 210.5,259.40 218.5,251.00 226.5,243.75 234.5,237.50 242.5,229.00 250.5,220.60 258.5,215.00 266.5,210.40 274.5,204.80 282.5,199.60 290.5,195.00 298.5,195.00 306.5,190.00 314.5,181.90 322.5,171.25 330.5,162.20 338.5,152.80 346.5,144.70 354.5,137.20 362.5,131.00 370.5,126.00 378.5,121.25 386.5,118.30 394.5,116.25 402.5,115.25 410.5,114.40 418.5,114.00 426.5,114.40 434.5,115.60 442.5,116.25 450.5,116.50 458.5,117.25 466.5,117.75 474.5,118.50 482.5,119.00 490.5,117.50 498.5,111.25 506.5,104.75 514.5,100.00 522.5,95.00 530.5,91.90 538.5,88.10 546.5,82.50 554.5,77.50 562.5,73.75 570.5,70.60 578.5,67.50 586.5,63.75 594.5,59.00 602.5,55.00 610.5,51.00 618.5,48.50 626.5,46.25 634.5,44.00 642.5,42.20 650.5,42.25 658.5,45.60 666.5,48.75 674.5,51.90 682.5,52.25 690.5,54.75 698.5,55.00 706.5,55.25 714.5,59.00 722.5,60.60 730.5,60.60 738.5,59.40 746.5,58.10 754.5,56.00 762.5,53.75 770.5,51.00 778.5,49.40 786.5,49.40 794.5,51.50 802.5,53.50 810.5,56.50 818.5,58.10 826.5,62.50 834.5,71.90 842.5,81.25 850.5,96.25 858.5,111.25 866.5,127.50 874.5,145.00 882.5,161.25 890.5,171.90 898.5,181.90 906.5,191.90 914.5,200.00 922.5,205.30 930.5,212.80 938.5,220.00 946.5,227.50 954.5,233.90 962.5,241.90 970.5,250.60 978.5,256.25 986.5,262.50 994.5,272.20 1002.5,285.00 1010.5,300.00 1018.5,309.75 1026.5,309.75 1034.5,305.00 1042.5,294.40 1050.5,290.00 1058.5,283.75 1066.5,280.00 1074.5,279.40 1082.5,278.30 1090.5,275.60 1098.5,271.25 1106.5,267.50 1114.5,262.50 1122.5,257.25 1130.5,253.50 1138.5,249.40 1147.0,247.75" fill="none" stroke="#ff0000" stroke-width="2" stroke-linejoin="round"/><polyline points="2.0,283.10 10.5,283.10 18.5,280.00 26.5,277.75 34.5,276.90 42.5,278.50 50.5,282.50 58.5,292.30 66.5,302.50 74.5,311.25 82.5,322.00 90.5,335.60 98.5,357.50 106.5,373.75 114.5,378.75 122.5,373.75 130.5,362.50 138.5,343.75 146.5,321.25 154.5,303.75 162.5,288.50 170.5,271.25 178.5,256.90 186.5,244.40 194.5,234.40 202.5,226.25 210.5,220.60 218.5,215.00 226.5,206.90 234.5,200.00 242.5,193.10 250.5,188.50 258.5,185.00 266.5,179.40 274.5,177.25 282.5,180.00 290.5,175.00 298.5,164.40 306.5,152.50 314.5,141.00 322.5,131.25 330.5,122.50 338.5,115.00 346.5,109.20 354.5,104.75 362.5,101.90 370.5,100.60 378.5,101.00 386.5,102.25 394.5,103.50 402.5,105.60 410.5,108.50 418.5,111.25 426.5,112.50 434.5,114.75 442.5,116.25 450.5,116.90 458.5,118.50 466.5,118.50 474.5,115.60 482.5,107.50 490.5,98.10 498.5,91.00 506.5,85.60 514.5,81.90 522.5,76.90 530.5,71.90 538.5,66.25 546.5,63.10 554.5,60.00 562.5,56.90 570.5,53.10 578.5,46.90 586.5,42.50 594.5,38.75 602.5,36.00 610.5,36.00 618.5,35.00 626.5,34.00 634.5,35.60 642.5,40.80 650.5,48.10 658.5,53.75 666.5,55.00 674.5,56.25 682.5,56.90 690.5,58.10 698.5,63.10 706.5,66.00 714.5,64.40 722.5,61.50 730.5,58.75 738.5,55.00 746.5,51.25 754.5,48.10 762.5,46.00 770.5,46.25 778.5,49.75 786.5,53.75 794.5,57.50 802.5,61.50 810.5,67.50 818.5,80.00 826.5,96.25 834.5,118.75 842.5,136.25 850.5,157.50 858.5,178.75 866.5,199.40 874.5,210.00 882.5,217.50 890.5,225.60 898.5,230.60 906.5,234.40 914.5,240.00 922.5,246.25 930.5,253.75 938.5,260.00 946.5,266.60 954.5,275.00 962.5,279.40 970.5,284.70 978.5,294.40 986.5,311.25 994.5,330.00 1002.5,340.60 1010.5,335.00 1018.5,318.10 1026.5,301.25 1034.5,291.90 1042.5,283.10 1050.5,277.25 1058.5,275.60 1066.5,274.75 1074.5,271.25 1082.5,265.00 1090.5,258.50 1098.5,252.50 1106.5,246.90 1114.5,241.90 1122.5,238.75 1131.0,237.75" fill="none" stroke="#00ff00" stroke-width="2" stroke-linejoin="round"/></g><g clip-path="url(#cm)" shape-rendering="geometricPrecision"><polygon points="11.5,244 5.5,254 11.5,250.8" fill="#737373" stroke="#737373" stroke-width="0.35"/><polygon points="11.5,244 17.5,254 11.5,250.8" fill="none" stroke="#b4b8d2" stroke-width="0.9" stroke-dasharray="1.6 0.6"/><polygon points="203.5,145 197.5,155 203.5,151.8" fill="#737373" stroke="#737373" stroke-width="0.35"/><polygon points="203.5,145 209.5,155 203.5,151.8" fill="none" stroke="#b4b8d2" stroke-width="0.9" stroke-dasharray="1.6 0.6"/><polygon points="291.5,67 285.5,77 291.5,73.8" fill="#737373" stroke="#737373" stroke-width="0.35"/><polygon points="291.5,67 297.5,77 291.5,73.8" fill="none" stroke="#b4b8d2" stroke-width="0.9" stroke-dasharray="1.6 0.6"/><polygon points="315.5,63 309.5,73 315.5,69.8" fill="#737373" stroke="#737373" stroke-width="0.35"/><polygon points="315.5,63 321.5,73 315.5,69.8" fill="none" stroke="#b4b8d2" stroke-width="0.9" stroke-dasharray="1.6 0.6"/><polygon points="427.5,90 421.5,100 427.5,96.8" fill="#737373" stroke="#737373" stroke-width="0.35"/><polygon points="427.5,90 433.5,100 427.5,96.8" fill="none" stroke="#b4b8d2" stroke-width="0.9" stroke-dasharray="1.6 0.6"/><polygon points="515.5,21 509.5,31 515.5,27.8" fill="#737373" stroke="#737373" stroke-width="0.35"/><polygon points="515.5,21 521.5,31 515.5,27.8" fill="none" stroke="#b4b8d2" stroke-width="0.9" stroke-dasharray="1.6 0.6"/><polygon points="579.5,0 573.5,10 579.5,6.8" fill="#737373" stroke="#737373" stroke-width="0.35"/><polygon points="579.5,0 585.5,10 579.5,6.8" fill="none" stroke="#b4b8d2" stroke-width="0.9" stroke-dasharray="1.6 0.6"/><polygon points="603.5,4 597.5,14 603.5,10.8" fill="#737373" stroke="#737373" stroke-width="0.35"/><polygon points="603.5,4 609.5,14 603.5,10.8" fill="none" stroke="#b4b8d2" stroke-width="0.9" stroke-dasharray="1.6 0.6"/><polygon points="643.5,30 637.5,40 643.5,36.8" fill="#737373" stroke="#737373" stroke-width="0.35"/><polygon points="643.5,30 649.5,40 643.5,36.8" fill="none" stroke="#b4b8d2" stroke-width="0.9" stroke-dasharray="1.6 0.6"/><polygon points="691.5,19 685.5,29 691.5,25.8" fill="#737373" stroke="#737373" stroke-width="0.35"/><polygon points="691.5,19 697.5,29 691.5,25.8" fill="none" stroke="#b4b8d2" stroke-width="0.9" stroke-dasharray="1.6 0.6"/><polygon points="739.5,14 733.5,24 739.5,20.8" fill="#737373" stroke="#737373" stroke-width="0.35"/><polygon points="739.5,14 745.5,24 739.5,20.8" fill="none" stroke="#b4b8d2" stroke-width="0.9" stroke-dasharray="1.6 0.6"/><polygon points="851.5,222 845.5,232 851.5,228.8" fill="#737373" stroke="#737373" stroke-width="0.35"/><polygon points="851.5,222 857.5,232 851.5,228.8" fill="none" stroke="#b4b8d2" stroke-width="0.9" stroke-dasharray="1.6 0.6"/><polygon points="883.5,230 877.5,240 883.5,236.8" fill="#737373" stroke="#737373" stroke-width="0.35"/><polygon points="883.5,230 889.5,240 883.5,236.8" fill="none" stroke="#b4b8d2" stroke-width="0.9" stroke-dasharray="1.6 0.6"/><polygon points="1003.5,192 997.5,202 1003.5,198.8" fill="#737373" stroke="#737373" stroke-width="0.35"/><polygon points="1003.5,192 1009.5,202 1003.5,198.8" fill="none" stroke="#b4b8d2" stroke-width="0.9" stroke-dasharray="1.6 0.6"/><polygon points="1027.5,202 1021.5,212 1027.5,208.8" fill="#737373" stroke="#737373" stroke-width="0.35"/><polygon points="1027.5,202 1033.5,212 1027.5,208.8" fill="none" stroke="#b4b8d2" stroke-width="0.9" stroke-dasharray="1.6 0.6"/><polygon points="1091.5,201 1085.5,211 1091.5,207.8" fill="#737373" stroke="#737373" stroke-width="0.35"/><polygon points="1091.5,201 1097.5,211 1091.5,207.8" fill="none" stroke="#b4b8d2" stroke-width="0.9" stroke-dasharray="1.6 0.6"/><polygon points="82.8,481 88.8,471 82.8,474.2" fill="#737373" stroke="#737373" stroke-width="0.35"/><polygon points="82.8,481 76.8,471 82.8,474.2" fill="none" stroke="#b4b8d2" stroke-width="0.9" stroke-dasharray="1.6 0.6"/><polygon points="194.8,221 200.8,211 194.8,214.2" fill="#737373" stroke="#737373" stroke-width="0.35"/><polygon points="194.8,221 188.8,211 194.8,214.2" fill="none" stroke="#b4b8d2" stroke-width="0.9" stroke-dasharray="1.6 0.6"/><polygon points="226.8,194 232.8,184 226.8,187.2" fill="#737373" stroke="#737373" stroke-width="0.35"/><polygon points="226.8,194 220.8,184 226.8,187.2" fill="none" stroke="#b4b8d2" stroke-width="0.9" stroke-dasharray="1.6 0.6"/><polygon points="258.8,227 264.8,217 258.8,220.2" fill="#737373" stroke="#737373" stroke-width="0.35"/><polygon points="258.8,227 252.8,217 258.8,220.2" fill="none" stroke="#b4b8d2" stroke-width="0.9" stroke-dasharray="1.6 0.6"/><polygon points="434.8,157 440.8,147 434.8,150.2" fill="#737373" stroke="#737373" stroke-width="0.35"/><polygon points="434.8,157 428.8,147 434.8,150.2" fill="none" stroke="#b4b8d2" stroke-width="0.9" stroke-dasharray="1.6 0.6"/><polygon points="530.8,71 536.8,61 530.8,64.2" fill="#737373" stroke="#737373" stroke-width="0.35"/><polygon points="530.8,71 524.8,61 530.8,64.2" fill="none" stroke="#b4b8d2" stroke-width="0.9" stroke-dasharray="1.6 0.6"/><polygon points="626.8,116 632.8,106 626.8,109.2" fill="#737373" stroke="#737373" stroke-width="0.35"/><polygon points="626.8,116 620.8,106 626.8,109.2" fill="none" stroke="#b4b8d2" stroke-width="0.9" stroke-dasharray="1.6 0.6"/><polygon points="674.8,116 680.8,106 674.8,109.2" fill="#737373" stroke="#737373" stroke-width="0.35"/><polygon points="674.8,116 668.8,106 674.8,109.2" fill="none" stroke="#b4b8d2" stroke-width="0.9" stroke-dasharray="1.6 0.6"/><polygon points="834.8,309 840.8,299 834.8,302.2" fill="#737373" stroke="#737373" stroke-width="0.35"/><polygon points="834.8,309 828.8,299 834.8,302.2" fill="none" stroke="#b4b8d2" stroke-width="0.9" stroke-dasharray="1.6 0.6"/><polygon points="930.8,343 936.8,333 930.8,336.2" fill="#737373" stroke="#737373" stroke-width="0.35"/><polygon points="930.8,343 924.8,333 930.8,336.2" fill="none" stroke="#b4b8d2" stroke-width="0.9" stroke-dasharray="1.6 0.6"/><polygon points="978.8,448 984.8,438 978.8,441.2" fill="#737373" stroke="#737373" stroke-width="0.35"/><polygon points="978.8,448 972.8,438 978.8,441.2" fill="none" stroke="#b4b8d2" stroke-width="0.9" stroke-dasharray="1.6 0.6"/><polygon points="1042.8,317 1048.8,307 1042.8,310.2" fill="#737373" stroke="#737373" stroke-width="0.35"/><polygon points="1042.8,317 1036.8,307 1042.8,310.2" fill="none" stroke="#b4b8d2" stroke-width="0.9" stroke-dasharray="1.6 0.6"/></g><g shape-rendering="geometricPrecision"><polygon points="1122.3,206.2 1130.4,213.4 1125.6,213.4 1125.6,224.3 1118.7,224.3 1118.7,213.4 1114,213.4" fill="none" stroke="#58d458" stroke-width="1.1" stroke-linejoin="miter"/></g><g clip-path="url(#c1)"><rect x="0" y="521" width="4" height="19" fill="#008000"/><rect x="8" y="521" width="4" height="17" fill="#008000"/><rect x="16" y="521" width="4" height="14" fill="#008000"/><rect x="24" y="521" width="4" height="14" fill="#008000"/><rect x="32" y="521" width="4" height="16" fill="#ff0000"/><rect x="40" y="521" width="4" height="19" fill="#ff0000"/><rect x="48" y="521" width="4" height="22" fill="#ff0000"/><rect x="56" y="521" width="4" height="25" fill="#ff0000"/><rect x="64" y="521" width="4" height="29" fill="#ff0000"/><rect x="72" y="521" width="4" height="33" fill="#ff0000"/><rect x="80" y="521" width="4" height="36" fill="#ff0000"/><rect x="88" y="521" width="4" height="37" fill="#ff0000"/><rect x="96" y="521" width="4" height="34" fill="#008000"/><rect x="104" y="521" width="4" height="29" fill="#008000"/><rect x="112" y="521" width="4" height="18" fill="#008000"/><rect x="120" y="521" width="4" height="5" fill="#008000"/><rect x="128" y="516" width="4" height="5" fill="#008000"/><rect x="136" y="508" width="4" height="13" fill="#008000"/><rect x="144" y="501" width="4" height="20" fill="#008000"/><rect x="152" y="497" width="4" height="24" fill="#008000"/><rect x="160" y="496" width="4" height="25" fill="#008000"/><rect x="168" y="495" width="4" height="26" fill="#008000"/><rect x="176" y="494" width="4" height="27" fill="#008000"/><rect x="184" y="494" width="4" height="27" fill="#008000"/><rect x="192" y="494" width="4" height="27" fill="#ff0000"/><rect x="200" y="494" width="4" height="27" fill="#008000"/><rect x="208" y="493" width="4" height="28" fill="#008000"/><rect x="216" y="492" width="4" height="29" fill="#008000"/><rect x="224" y="492" width="4" height="29" fill="#008000"/><rect x="232" y="491" width="4" height="30" fill="#008000"/><rect x="240" y="492" width="4" height="29" fill="#ff0000"/><rect x="248" y="493" width="4" height="28" fill="#ff0000"/><rect x="256" y="495" width="4" height="26" fill="#ff0000"/><rect x="264" y="495" width="4" height="26" fill="#ff0000"/><rect x="272" y="494" width="4" height="27" fill="#008000"/><rect x="280" y="492" width="4" height="29" fill="#008000"/><rect x="288" y="490" width="4" height="31" fill="#008000"/><rect x="296" y="485" width="4" height="36" fill="#008000"/><rect x="304" y="484" width="4" height="37" fill="#008000"/><rect x="312" y="484" width="4" height="37" fill="#008000"/><rect x="320" y="485" width="4" height="36" fill="#ff0000"/><rect x="328" y="487" width="4" height="34" fill="#ff0000"/><rect x="336" y="489" width="4" height="32" fill="#ff0000"/><rect x="344" y="493" width="4" height="28" fill="#ff0000"/><rect x="352" y="497" width="4" height="24" fill="#ff0000"/><rect x="360" y="500" width="4" height="21" fill="#ff0000"/><rect x="368" y="503" width="4" height="18" fill="#ff0000"/><rect x="376" y="507" width="4" height="14" fill="#ff0000"/><rect x="384" y="509" width="4" height="12" fill="#ff0000"/><rect x="392" y="511" width="4" height="10" fill="#ff0000"/><rect x="400" y="513" width="4" height="8" fill="#ff0000"/><rect x="408" y="515" width="4" height="6" fill="#ff0000"/><rect x="416" y="516" width="4" height="5" fill="#ff0000"/><rect x="424" y="516" width="4" height="5" fill="#ff0000"/><rect x="432" y="517" width="4" height="4" fill="#ff0000"/><rect x="440" y="518" width="4" height="3" fill="#ff0000"/><rect x="448" y="518" width="4" height="3" fill="#008000"/><rect x="456" y="516" width="4" height="5" fill="#008000"/><rect x="464" y="514" width="4" height="7" fill="#008000"/><rect x="472" y="511" width="4" height="10" fill="#008000"/><rect x="480" y="509" width="4" height="12" fill="#008000"/><rect x="488" y="508" width="4" height="13" fill="#008000"/><rect x="496" y="508" width="4" height="13" fill="#ff0000"/><rect x="504" y="508" width="4" height="13" fill="#ff0000"/><rect x="512" y="508" width="4" height="13" fill="#008000"/><rect x="520" y="508" width="4" height="13" fill="#ff0000"/><rect x="528" y="508" width="4" height="13" fill="#ff0000"/><rect x="536" y="508" width="4" height="13" fill="#008000"/><rect x="544" y="508" width="4" height="13" fill="#008000"/><rect x="552" y="508" width="4" height="13" fill="#008000"/><rect x="560" y="507" width="4" height="14" fill="#008000"/><rect x="568" y="506" width="4" height="15" fill="#008000"/><rect x="576" y="506" width="4" height="15" fill="#008000"/><rect x="584" y="506" width="4" height="15" fill="#ff0000"/><rect x="592" y="507" width="4" height="14" fill="#ff0000"/><rect x="600" y="507" width="4" height="14" fill="#ff0000"/><rect x="608" y="509" width="4" height="12" fill="#ff0000"/><rect x="616" y="511" width="4" height="10" fill="#ff0000"/><rect x="624" y="514" width="4" height="7" fill="#ff0000"/><rect x="632" y="517" width="4" height="4" fill="#ff0000"/><rect x="640" y="519" width="4" height="2" fill="#ff0000"/><rect x="648" y="520" width="4" height="1" fill="#ff0000"/><rect x="656" y="521" width="4" height="1" fill="#ff0000"/><rect x="664" y="520" width="4" height="1" fill="#008000"/><rect x="672" y="521" width="4" height="1" fill="#ff0000"/><rect x="680" y="521" width="4" height="1" fill="#ff0000"/><rect x="688" y="521" width="4" height="1" fill="#ff0000"/><rect x="696" y="521" width="4" height="1" fill="#008000"/><rect x="704" y="521" width="4" height="1" fill="#ff0000"/><rect x="712" y="521" width="4" height="1" fill="#008000"/><rect x="720" y="519" width="4" height="2" fill="#008000"/><rect x="728" y="518" width="4" height="3" fill="#008000"/><rect x="736" y="518" width="4" height="3" fill="#008000"/><rect x="744" y="518" width="4" height="3" fill="#008000"/><rect x="752" y="519" width="4" height="2" fill="#ff0000"/><rect x="760" y="520" width="4" height="1" fill="#ff0000"/><rect x="768" y="521" width="4" height="1" fill="#ff0000"/><rect x="776" y="521" width="4" height="4" fill="#ff0000"/><rect x="784" y="521" width="4" height="6" fill="#ff0000"/><rect x="792" y="521" width="4" height="10" fill="#ff0000"/><rect x="800" y="521" width="4" height="14" fill="#ff0000"/><rect x="808" y="521" width="4" height="20" fill="#ff0000"/><rect x="816" y="521" width="4" height="26" fill="#ff0000"/><rect x="824" y="521" width="4" height="33" fill="#ff0000"/><rect x="832" y="521" width="4" height="39" fill="#ff0000"/><rect x="840" y="521" width="4" height="44" fill="#ff0000"/><rect x="848" y="521" width="4" height="45" fill="#ff0000"/><rect x="856" y="521" width="4" height="45" fill="#ff0000"/><rect x="864" y="521" width="4" height="44" fill="#008000"/><rect x="872" y="521" width="4" height="41" fill="#008000"/><rect x="880" y="521" width="4" height="38" fill="#008000"/><rect x="888" y="521" width="4" height="37" fill="#008000"/><rect x="896" y="521" width="4" height="36" fill="#008000"/><rect x="904" y="521" width="4" height="36" fill="#008000"/><rect x="912" y="521" width="4" height="35" fill="#008000"/><rect x="920" y="521" width="4" height="36" fill="#ff0000"/><rect x="928" y="521" width="4" height="37" fill="#ff0000"/><rect x="936" y="521" width="4" height="37" fill="#008000"/><rect x="944" y="521" width="4" height="36" fill="#008000"/><rect x="952" y="521" width="4" height="38" fill="#ff0000"/><rect x="960" y="521" width="4" height="40" fill="#ff0000"/><rect x="968" y="521" width="4" height="42" fill="#ff0000"/><rect x="976" y="521" width="4" height="44" fill="#ff0000"/><rect x="984" y="521" width="4" height="42" fill="#008000"/><rect x="992" y="521" width="4" height="35" fill="#008000"/><rect x="1000" y="521" width="4" height="25" fill="#008000"/><rect x="1008" y="521" width="4" height="15" fill="#008000"/><rect x="1016" y="521" width="4" height="5" fill="#008000"/><rect x="1024" y="520" width="4" height="1" fill="#008000"/><rect x="1032" y="520" width="4" height="1" fill="#008000"/><rect x="1040" y="521" width="4" height="1" fill="#ff0000"/><rect x="1048" y="519" width="4" height="2" fill="#008000"/><rect x="1056" y="518" width="4" height="3" fill="#008000"/><rect x="1064" y="516" width="4" height="5" fill="#008000"/><rect x="1072" y="513" width="4" height="8" fill="#008000"/><rect x="1080" y="510" width="4" height="11" fill="#008000"/><rect x="1088" y="508" width="4" height="13" fill="#008000"/><rect x="1096" y="507" width="4" height="14" fill="#008000"/><rect x="1104" y="507" width="4" height="14" fill="#008000"/></g><g clip-path="url(#c2)"><rect x="0" y="629" width="4" height="8" fill="#008000"/><rect x="8" y="625" width="4" height="12" fill="#008000"/><rect x="16" y="624" width="4" height="13" fill="#008000"/><rect x="24" y="629" width="4" height="8" fill="#ff0000"/><rect x="32" y="637" width="4" height="1" fill="#ff0000"/><rect x="40" y="637" width="4" height="7" fill="#ff0000"/><rect x="48" y="637" width="4" height="12" fill="#ff0000"/><rect x="56" y="637" width="4" height="15" fill="#ff0000"/><rect x="64" y="637" width="4" height="16" fill="#ff0000"/><rect x="72" y="637" width="4" height="18" fill="#ff0000"/><rect x="80" y="637" width="4" height="18" fill="#ff0000"/><rect x="88" y="637" width="4" height="13" fill="#008000"/><rect x="96" y="637" width="4" height="2" fill="#008000"/><rect x="104" y="625" width="4" height="12" fill="#008000"/><rect x="112" y="606" width="4" height="31" fill="#008000"/><rect x="120" y="590" width="4" height="47" fill="#008000"/><rect x="128" y="586" width="4" height="51" fill="#008000"/><rect x="136" y="589" width="4" height="48" fill="#ff0000"/><rect x="144" y="597" width="4" height="40" fill="#ff0000"/><rect x="152" y="607" width="4" height="30" fill="#ff0000"/><rect x="160" y="620" width="4" height="17" fill="#ff0000"/><rect x="168" y="626" width="4" height="11" fill="#ff0000"/><rect x="176" y="631" width="4" height="6" fill="#ff0000"/><rect x="184" y="635" width="4" height="2" fill="#ff0000"/><rect x="192" y="637" width="4" height="1" fill="#ff0000"/><rect x="200" y="636" width="4" height="1" fill="#008000"/><rect x="208" y="635" width="4" height="2" fill="#008000"/><rect x="216" y="635" width="4" height="2" fill="#008000"/><rect x="224" y="634" width="4" height="3" fill="#008000"/><rect x="232" y="635" width="4" height="2" fill="#ff0000"/><rect x="240" y="637" width="4" height="1" fill="#ff0000"/><rect x="248" y="637" width="4" height="3" fill="#ff0000"/><rect x="256" y="637" width="4" height="6" fill="#ff0000"/><rect x="264" y="637" width="4" height="5" fill="#008000"/><rect x="272" y="637" width="4" height="1" fill="#008000"/><rect x="280" y="634" width="4" height="3" fill="#008000"/><rect x="288" y="629" width="4" height="8" fill="#008000"/><rect x="296" y="623" width="4" height="14" fill="#008000"/><rect x="304" y="625" width="4" height="12" fill="#ff0000"/><rect x="312" y="629" width="4" height="8" fill="#ff0000"/><rect x="320" y="635" width="4" height="2" fill="#ff0000"/><rect x="328" y="637" width="4" height="5" fill="#ff0000"/><rect x="336" y="637" width="4" height="9" fill="#ff0000"/><rect x="344" y="637" width="4" height="13" fill="#ff0000"/><rect x="352" y="637" width="4" height="16" fill="#ff0000"/><rect x="360" y="637" width="4" height="18" fill="#ff0000"/><rect x="368" y="637" width="4" height="17" fill="#008000"/><rect x="376" y="637" width="4" height="17" fill="#008000"/><rect x="384" y="637" width="4" height="15" fill="#008000"/><rect x="392" y="637" width="4" height="13" fill="#008000"/><rect x="400" y="637" width="4" height="11" fill="#008000"/><rect x="408" y="637" width="4" height="9" fill="#008000"/><rect x="416" y="637" width="4" height="8" fill="#008000"/><rect x="424" y="637" width="4" height="6" fill="#008000"/><rect x="432" y="637" width="4" height="5" fill="#008000"/><rect x="440" y="637" width="4" height="5" fill="#008000"/><rect x="448" y="637" width="4" height="2" fill="#008000"/><rect x="456" y="634" width="4" height="3" fill="#008000"/><rect x="464" y="631" width="4" height="6" fill="#008000"/><rect x="472" y="627" width="4" height="10" fill="#008000"/><rect x="480" y="626" width="4" height="11" fill="#008000"/><rect x="488" y="628" width="4" height="9" fill="#ff0000"/><rect x="496" y="633" width="4" height="4" fill="#ff0000"/><rect x="504" y="636" width="4" height="1" fill="#ff0000"/><rect x="512" y="637" width="4" height="1" fill="#ff0000"/><rect x="520" y="637" width="4" height="1" fill="#ff0000"/><rect x="528" y="637" width="4" height="1" fill="#ff0000"/><rect x="536" y="637" width="4" height="1" fill="#008000"/><rect x="544" y="637" width="4" height="1" fill="#008000"/><rect x="552" y="637" width="4" height="1" fill="#008000"/><rect x="560" y="636" width="4" height="1" fill="#008000"/><rect x="568" y="634" width="4" height="3" fill="#008000"/><rect x="576" y="634" width="4" height="3" fill="#008000"/><rect x="584" y="636" width="4" height="1" fill="#ff0000"/><rect x="592" y="637" width="4" height="1" fill="#ff0000"/><rect x="600" y="637" width="4" height="2" fill="#ff0000"/><rect x="608" y="637" width="4" height="5" fill="#ff0000"/><rect x="616" y="637" width="4" height="8" fill="#ff0000"/><rect x="624" y="637" width="4" height="12" fill="#ff0000"/><rect x="632" y="637" width="4" height="13" fill="#ff0000"/><rect x="640" y="637" width="4" height="13" fill="#008000"/><rect x="648" y="637" width="4" height="11" fill="#008000"/><rect x="656" y="637" width="4" height="7" fill="#008000"/><rect x="664" y="637" width="4" height="2" fill="#008000"/><rect x="672" y="637" width="4" height="2" fill="#ff0000"/><rect x="680" y="637" width="4" height="5" fill="#ff0000"/><rect x="688" y="637" width="4" height="4" fill="#008000"/><rect x="696" y="637" width="4" height="2" fill="#008000"/><rect x="704" y="637" width="4" height="1" fill="#008000"/><rect x="712" y="634" width="4" height="3" fill="#008000"/><rect x="720" y="631" width="4" height="6" fill="#008000"/><rect x="728" y="631" width="4" height="6" fill="#008000"/><rect x="736" y="632" width="4" height="5" fill="#ff0000"/><rect x="744" y="635" width="4" height="2" fill="#ff0000"/><rect x="752" y="637" width="4" height="2" fill="#ff0000"/><rect x="760" y="637" width="4" height="6" fill="#ff0000"/><rect x="768" y="637" width="4" height="9" fill="#ff0000"/><rect x="776" y="637" width="4" height="10" fill="#ff0000"/><rect x="784" y="637" width="4" height="11" fill="#ff0000"/><rect x="792" y="637" width="4" height="13" fill="#ff0000"/><rect x="800" y="637" width="4" height="16" fill="#ff0000"/><rect x="808" y="637" width="4" height="22" fill="#ff0000"/><rect x="816" y="637" width="4" height="27" fill="#ff0000"/><rect x="824" y="637" width="4" height="31" fill="#ff0000"/><rect x="832" y="637" width="4" height="31" fill="#008000"/><rect x="840" y="637" width="4" height="28" fill="#008000"/><rect x="848" y="637" width="4" height="18" fill="#008000"/><rect x="856" y="637" width="4" height="10" fill="#008000"/><rect x="864" y="637" width="4" height="2" fill="#008000"/><rect x="872" y="631" width="4" height="6" fill="#008000"/><rect x="880" y="626" width="4" height="11" fill="#008000"/><rect x="888" y="627" width="4" height="10" fill="#ff0000"/><rect x="896" y="630" width="4" height="7" fill="#ff0000"/><rect x="904" y="633" width="4" height="4" fill="#ff0000"/><rect x="912" y="635" width="4" height="2" fill="#ff0000"/><rect x="920" y="637" width="4" height="1" fill="#ff0000"/><rect x="928" y="637" width="4" height="3" fill="#ff0000"/><rect x="936" y="637" width="4" height="1" fill="#008000"/><rect x="944" y="637" width="4" height="1" fill="#008000"/><rect x="952" y="637" width="4" height="2" fill="#ff0000"/><rect x="960" y="637" width="4" height="6" fill="#ff0000"/><rect x="968" y="637" width="4" height="9" fill="#ff0000"/><rect x="976" y="637" width="4" height="10" fill="#ff0000"/><rect x="984" y="637" width="4" height="3" fill="#008000"/><rect x="992" y="625" width="4" height="12" fill="#008000"/><rect x="1000" y="607" width="4" height="30" fill="#008000"/><rect x="1008" y="595" width="4" height="42" fill="#008000"/><rect x="1016" y="590" width="4" height="47" fill="#008000"/><rect x="1024" y="598" width="4" height="39" fill="#ff0000"/><rect x="1032" y="614" width="4" height="23" fill="#ff0000"/><rect x="1040" y="628" width="4" height="9" fill="#ff0000"/><rect x="1048" y="632" width="4" height="5" fill="#ff0000"/><rect x="1056" y="633" width="4" height="4" fill="#ff0000"/><rect x="1064" y="631" width="4" height="6" fill="#008000"/><rect x="1072" y="626" width="4" height="11" fill="#008000"/><rect x="1080" y="624" width="4" height="13" fill="#008000"/><rect x="1088" y="625" width="4" height="12" fill="#ff0000"/><rect x="1096" y="629" width="4" height="8" fill="#ff0000"/><rect x="1104" y="633" width="4" height="4" fill="#ff0000"/></g><g clip-path="url(#c3)"><rect x="0" y="711" width="4" height="19" fill="#008000"/><rect x="0" y="730" width="4" height="18" fill="#008000"/><rect x="8" y="709" width="4" height="21" fill="#008000"/><rect x="8" y="730" width="4" height="14" fill="#ff0000"/><rect x="16" y="709" width="4" height="21" fill="#008000"/><rect x="16" y="730" width="4" height="9" fill="#ff0000"/><rect x="24" y="710" width="4" height="20" fill="#ff0000"/><rect x="24" y="730" width="4" height="7" fill="#ff0000"/><rect x="32" y="713" width="4" height="17" fill="#ff0000"/><rect x="32" y="730" width="4" height="6" fill="#ff0000"/><rect x="40" y="716" width="4" height="14" fill="#ff0000"/><rect x="40" y="730" width="4" height="6" fill="#008000"/><rect x="48" y="718" width="4" height="12" fill="#ff0000"/><rect x="48" y="730" width="4" height="9" fill="#008000"/><rect x="56" y="718" width="4" height="12" fill="#ff0000"/><rect x="56" y="730" width="4" height="13" fill="#008000"/><rect x="64" y="716" width="4" height="14" fill="#008000"/><rect x="64" y="730" width="4" height="16" fill="#008000"/><rect x="72" y="713" width="4" height="17" fill="#008000"/><rect x="72" y="730" width="4" height="17" fill="#008000"/><rect x="80" y="711" width="4" height="19" fill="#008000"/><rect x="80" y="730" width="4" height="20" fill="#008000"/><rect x="88" y="708" width="4" height="22" fill="#008000"/><rect x="88" y="730" width="4" height="24" fill="#008000"/><rect x="96" y="706" width="4" height="24" fill="#008000"/><rect x="96" y="730" width="4" height="30" fill="#008000"/><rect x="104" y="703" width="4" height="27" fill="#008000"/><rect x="104" y="730" width="4" height="33" fill="#008000"/><rect x="112" y="698" width="4" height="32" fill="#008000"/><rect x="112" y="730" width="4" height="27" fill="#ff0000"/><rect x="120" y="695" width="4" height="35" fill="#008000"/><rect x="120" y="730" width="4" height="16" fill="#ff0000"/><rect x="128" y="695" width="4" height="35" fill="#ff0000"/><rect x="128" y="730" width="4" height="6" fill="#ff0000"/><rect x="136" y="702" width="4" height="28" fill="#ff0000"/><rect x="136" y="730" width="4" height="4" fill="#ff0000"/><rect x="144" y="711" width="4" height="19" fill="#ff0000"/><rect x="144" y="730" width="4" height="15" fill="#008000"/><rect x="152" y="720" width="4" height="10" fill="#ff0000"/><rect x="152" y="730" width="4" height="20" fill="#008000"/><rect x="160" y="729" width="4" height="1" fill="#ff0000"/><rect x="160" y="730" width="4" height="22" fill="#008000"/><rect x="168" y="726" width="4" height="4" fill="#008000"/><rect x="168" y="730" width="4" height="25" fill="#008000"/><rect x="176" y="721" width="4" height="9" fill="#008000"/><rect x="176" y="730" width="4" height="26" fill="#008000"/><rect x="184" y="718" width="4" height="12" fill="#008000"/><rect x="184" y="730" width="4" height="26" fill="#ff0000"/><rect x="192" y="715" width="4" height="15" fill="#008000"/><rect x="192" y="730" width="4" height="25" fill="#ff0000"/><rect x="200" y="713" width="4" height="17" fill="#008000"/><rect x="200" y="730" width="4" height="24" fill="#ff0000"/><rect x="208" y="712" width="4" height="18" fill="#008000"/><rect x="208" y="730" width="4" height="22" fill="#ff0000"/><rect x="216" y="711" width="4" height="19" fill="#008000"/><rect x="216" y="730" width="4" height="21" fill="#ff0000"/><rect x="224" y="711" width="4" height="19" fill="#008000"/><rect x="224" y="730" width="4" height="22" fill="#008000"/><rect x="232" y="711" width="4" height="19" fill="#008000"/><rect x="232" y="730" width="4" height="23" fill="#008000"/><rect x="240" y="710" width="4" height="20" fill="#008000"/><rect x="240" y="730" width="4" height="21" fill="#ff0000"/><rect x="248" y="708" width="4" height="22" fill="#008000"/><rect x="248" y="730" width="4" height="19" fill="#ff0000"/><rect x="256" y="708" width="4" height="22" fill="#008000"/><rect x="256" y="730" width="4" height="18" fill="#ff0000"/><rect x="264" y="708" width="4" height="22" fill="#ff0000"/><rect x="264" y="730" width="4" height="18" fill="#008000"/><rect x="272" y="709" width="4" height="21" fill="#ff0000"/><rect x="272" y="730" width="4" height="17" fill="#ff0000"/><rect x="280" y="709" width="4" height="21" fill="#008000"/><rect x="280" y="730" width="4" height="11" fill="#ff0000"/><rect x="288" y="709" width="4" height="21" fill="#ff0000"/><rect x="288" y="730" width="4" height="11" fill="#008000"/><rect x="296" y="712" width="4" height="18" fill="#ff0000"/><rect x="296" y="730" width="4" height="17" fill="#008000"/><rect x="304" y="712" width="4" height="18" fill="#ff0000"/><rect x="304" y="730" width="4" height="21" fill="#008000"/><rect x="312" y="710" width="4" height="20" fill="#008000"/><rect x="312" y="730" width="4" height="24" fill="#008000"/><rect x="320" y="706" width="4" height="24" fill="#008000"/><rect x="320" y="730" width="4" height="24" fill="#008000"/><rect x="328" y="702" width="4" height="28" fill="#008000"/><rect x="328" y="730" width="4" height="23" fill="#ff0000"/><rect x="336" y="701" width="4" height="29" fill="#008000"/><rect x="336" y="730" width="4" height="22" fill="#ff0000"/><rect x="344" y="701" width="4" height="29" fill="#008000"/><rect x="344" y="730" width="4" height="21" fill="#ff0000"/><rect x="352" y="701" width="4" height="29" fill="#ff0000"/><rect x="352" y="730" width="4" height="19" fill="#ff0000"/><rect x="360" y="702" width="4" height="28" fill="#ff0000"/><rect x="360" y="730" width="4" height="17" fill="#ff0000"/><rect x="368" y="703" width="4" height="27" fill="#ff0000"/><rect x="368" y="730" width="4" height="15" fill="#ff0000"/><rect x="376" y="704" width="4" height="26" fill="#ff0000"/><rect x="376" y="730" width="4" height="12" fill="#ff0000"/><rect x="384" y="706" width="4" height="24" fill="#ff0000"/><rect x="384" y="730" width="4" height="10" fill="#ff0000"/><rect x="392" y="708" width="4" height="22" fill="#ff0000"/><rect x="392" y="730" width="4" height="8" fill="#ff0000"/><rect x="400" y="710" width="4" height="20" fill="#ff0000"/><rect x="400" y="730" width="4" height="6" fill="#ff0000"/><rect x="408" y="712" width="4" height="18" fill="#ff0000"/><rect x="408" y="730" width="4" height="4" fill="#ff0000"/><rect x="416" y="714" width="4" height="16" fill="#ff0000"/><rect x="416" y="730" width="4" height="2" fill="#ff0000"/><rect x="424" y="716" width="4" height="14" fill="#ff0000"/><rect x="424" y="730" width="4" height="2" fill="#ff0000"/><rect x="432" y="718" width="4" height="12" fill="#ff0000"/><rect x="432" y="730" width="4" height="1" fill="#008000"/><rect x="440" y="719" width="4" height="11" fill="#ff0000"/><rect x="440" y="730" width="4" height="1" fill="#008000"/><rect x="448" y="720" width="4" height="10" fill="#ff0000"/><rect x="448" y="730" width="4" height="1" fill="#ff0000"/><rect x="456" y="721" width="4" height="9" fill="#ff0000"/><rect x="456" y="730" width="4" height="1" fill="#008000"/><rect x="464" y="722" width="4" height="8" fill="#ff0000"/><rect x="464" y="730" width="4" height="1" fill="#008000"/><rect x="472" y="723" width="4" height="7" fill="#ff0000"/><rect x="472" y="730" width="4" height="2" fill="#008000"/><rect x="480" y="724" width="4" height="6" fill="#ff0000"/><rect x="480" y="730" width="4" height="8" fill="#008000"/><rect x="488" y="723" width="4" height="7" fill="#008000"/><rect x="488" y="730" width="4" height="11" fill="#008000"/><rect x="496" y="720" width="4" height="10" fill="#008000"/><rect x="496" y="730" width="4" height="11" fill="#008000"/><rect x="504" y="717" width="4" height="13" fill="#008000"/><rect x="504" y="730" width="4" height="11" fill="#008000"/><rect x="512" y="715" width="4" height="15" fill="#008000"/><rect x="512" y="730" width="4" height="11" fill="#ff0000"/><rect x="520" y="715" width="4" height="15" fill="#008000"/><rect x="520" y="730" width="4" height="11" fill="#ff0000"/><rect x="528" y="715" width="4" height="15" fill="#ff0000"/><rect x="528" y="730" width="4" height="12" fill="#008000"/><rect x="536" y="716" width="4" height="14" fill="#ff0000"/><rect x="536" y="730" width="4" height="13" fill="#008000"/><rect x="544" y="715" width="4" height="15" fill="#008000"/><rect x="544" y="730" width="4" height="12" fill="#ff0000"/><rect x="552" y="714" width="4" height="16" fill="#008000"/><rect x="552" y="730" width="4" height="10" fill="#ff0000"/><rect x="560" y="714" width="4" height="16" fill="#008000"/><rect x="560" y="730" width="4" height="10" fill="#ff0000"/><rect x="568" y="715" width="4" height="15" fill="#ff0000"/><rect x="568" y="730" width="4" height="11" fill="#008000"/><rect x="576" y="715" width="4" height="15" fill="#ff0000"/><rect x="576" y="730" width="4" height="12" fill="#008000"/><rect x="584" y="715" width="4" height="15" fill="#008000"/><rect x="584" y="730" width="4" height="12" fill="#008000"/><rect x="592" y="714" width="4" height="16" fill="#008000"/><rect x="592" y="730" width="4" height="12" fill="#ff0000"/><rect x="600" y="714" width="4" height="16" fill="#008000"/><rect x="600" y="730" width="4" height="11" fill="#ff0000"/><rect x="608" y="714" width="4" height="16" fill="#008000"/><rect x="608" y="730" width="4" height="9" fill="#ff0000"/><rect x="616" y="714" width="4" height="16" fill="#ff0000"/><rect x="616" y="730" width="4" height="8" fill="#ff0000"/><rect x="624" y="715" width="4" height="15" fill="#ff0000"/><rect x="624" y="730" width="4" height="8" fill="#008000"/><rect x="632" y="716" width="4" height="14" fill="#ff0000"/><rect x="632" y="730" width="4" height="6" fill="#ff0000"/><rect x="640" y="717" width="4" height="13" fill="#ff0000"/><rect x="640" y="730" width="4" height="1" fill="#ff0000"/><rect x="648" y="718" width="4" height="12" fill="#ff0000"/><rect x="648" y="730" width="4" height="5" fill="#008000"/><rect x="656" y="721" width="4" height="9" fill="#ff0000"/><rect x="656" y="730" width="4" height="5" fill="#008000"/><rect x="664" y="726" width="4" height="4" fill="#ff0000"/><rect x="664" y="730" width="4" height="3" fill="#ff0000"/><rect x="672" y="728" width="4" height="2" fill="#ff0000"/><rect x="672" y="730" width="4" height="2" fill="#008000"/><rect x="680" y="728" width="4" height="2" fill="#008000"/><rect x="680" y="730" width="4" height="3" fill="#008000"/><rect x="688" y="727" width="4" height="3" fill="#008000"/><rect x="688" y="730" width="4" height="2" fill="#ff0000"/><rect x="696" y="727" width="4" height="3" fill="#ff0000"/><rect x="696" y="730" width="4" height="5" fill="#008000"/><rect x="704" y="728" width="4" height="2" fill="#ff0000"/><rect x="704" y="730" width="4" height="6" fill="#008000"/><rect x="712" y="729" width="4" height="1" fill="#ff0000"/><rect x="712" y="730" width="4" height="4" fill="#ff0000"/><rect x="720" y="729" width="4" height="1" fill="#ff0000"/><rect x="720" y="730" width="4" height="1" fill="#ff0000"/><rect x="728" y="729" width="4" height="1" fill="#008000"/><rect x="728" y="730" width="4" height="2" fill="#008000"/><rect x="736" y="729" width="4" height="1" fill="#008000"/><rect x="736" y="730" width="4" height="3" fill="#008000"/><rect x="744" y="727" width="4" height="3" fill="#008000"/><rect x="744" y="730" width="4" height="4" fill="#008000"/><rect x="752" y="727" width="4" height="3" fill="#008000"/><rect x="752" y="730" width="4" height="5" fill="#008000"/><rect x="760" y="726" width="4" height="4" fill="#008000"/><rect x="760" y="730" width="4" height="5" fill="#ff0000"/><rect x="768" y="725" width="4" height="5" fill="#008000"/><rect x="768" y="730" width="4" height="3" fill="#ff0000"/><rect x="776" y="725" width="4" height="5" fill="#008000"/><rect x="776" y="730" width="4" height="1" fill="#ff0000"/><rect x="784" y="725" width="4" height="5" fill="#ff0000"/><rect x="784" y="730" width="4" height="3" fill="#008000"/><rect x="792" y="728" width="4" height="2" fill="#ff0000"/><rect x="792" y="730" width="4" height="4" fill="#008000"/><rect x="800" y="729" width="4" height="1" fill="#008000"/><rect x="800" y="730" width="4" height="5" fill="#008000"/><rect x="808" y="729" width="4" height="1" fill="#008000"/><rect x="808" y="730" width="4" height="7" fill="#008000"/><rect x="816" y="728" width="4" height="2" fill="#008000"/><rect x="816" y="730" width="4" height="13" fill="#008000"/><rect x="824" y="727" width="4" height="3" fill="#008000"/><rect x="824" y="730" width="4" height="19" fill="#008000"/><rect x="832" y="722" width="4" height="8" fill="#008000"/><rect x="832" y="730" width="4" height="27" fill="#008000"/><rect x="840" y="717" width="4" height="13" fill="#008000"/><rect x="840" y="730" width="4" height="31" fill="#008000"/><rect x="848" y="710" width="4" height="20" fill="#008000"/><rect x="848" y="730" width="4" height="35" fill="#008000"/><rect x="856" y="705" width="4" height="25" fill="#008000"/><rect x="856" y="730" width="4" height="39" fill="#008000"/><rect x="864" y="699" width="4" height="31" fill="#008000"/><rect x="864" y="730" width="4" height="40" fill="#008000"/><rect x="872" y="695" width="4" height="35" fill="#008000"/><rect x="872" y="730" width="4" height="37" fill="#ff0000"/><rect x="880" y="692" width="4" height="38" fill="#008000"/><rect x="880" y="730" width="4" height="33" fill="#ff0000"/><rect x="888" y="692" width="4" height="38" fill="#ff0000"/><rect x="888" y="730" width="4" height="30" fill="#ff0000"/><rect x="896" y="693" width="4" height="37" fill="#ff0000"/><rect x="896" y="730" width="4" height="28" fill="#ff0000"/><rect x="904" y="695" width="4" height="35" fill="#ff0000"/><rect x="904" y="730" width="4" height="25" fill="#ff0000"/><rect x="912" y="696" width="4" height="34" fill="#ff0000"/><rect x="912" y="730" width="4" height="23" fill="#ff0000"/><rect x="920" y="697" width="4" height="33" fill="#ff0000"/><rect x="920" y="730" width="4" height="23" fill="#008000"/><rect x="928" y="698" width="4" height="32" fill="#ff0000"/><rect x="928" y="730" width="4" height="23" fill="#008000"/><rect x="936" y="698" width="4" height="32" fill="#ff0000"/><rect x="936" y="730" width="4" height="22" fill="#ff0000"/><rect x="944" y="698" width="4" height="32" fill="#008000"/><rect x="944" y="730" width="4" height="22" fill="#008000"/><rect x="952" y="698" width="4" height="32" fill="#ff0000"/><rect x="952" y="730" width="4" height="24" fill="#008000"/><rect x="960" y="698" width="4" height="32" fill="#008000"/><rect x="960" y="730" width="4" height="22" fill="#ff0000"/><rect x="968" y="697" width="4" height="33" fill="#008000"/><rect x="968" y="730" width="4" height="20" fill="#ff0000"/><rect x="976" y="697" width="4" height="33" fill="#ff0000"/><rect x="976" y="730" width="4" height="23" fill="#008000"/><rect x="984" y="698" width="4" height="32" fill="#ff0000"/><rect x="984" y="730" width="4" height="29" fill="#008000"/><rect x="992" y="697" width="4" height="33" fill="#008000"/><rect x="992" y="730" width="4" height="34" fill="#008000"/><rect x="1000" y="693" width="4" height="37" fill="#008000"/><rect x="1000" y="730" width="4" height="32" fill="#ff0000"/><rect x="1008" y="689" width="4" height="41" fill="#008000"/><rect x="1008" y="730" width="4" height="20" fill="#ff0000"/><rect x="1016" y="688" width="4" height="42" fill="#008000"/><rect x="1016" y="730" width="4" height="6" fill="#ff0000"/><rect x="1024" y="694" width="4" height="36" fill="#ff0000"/><rect x="1024" y="730" width="4" height="6" fill="#008000"/><rect x="1032" y="705" width="4" height="25" fill="#ff0000"/><rect x="1032" y="730" width="4" height="7" fill="#008000"/><rect x="1040" y="715" width="4" height="15" fill="#ff0000"/><rect x="1040" y="730" width="4" height="7" fill="#008000"/><rect x="1048" y="720" width="4" height="10" fill="#ff0000"/><rect x="1048" y="730" width="4" height="8" fill="#008000"/><rect x="1056" y="723" width="4" height="7" fill="#ff0000"/><rect x="1056" y="730" width="4" height="5" fill="#ff0000"/><rect x="1064" y="723" width="4" height="7" fill="#ff0000"/><rect x="1064" y="730" width="4" height="3" fill="#ff0000"/><rect x="1072" y="723" width="4" height="7" fill="#ff0000"/><rect x="1072" y="730" width="4" height="5" fill="#008000"/><rect x="1080" y="722" width="4" height="8" fill="#008000"/><rect x="1080" y="730" width="4" height="8" fill="#008000"/><rect x="1088" y="724" width="4" height="6" fill="#ff0000"/><rect x="1088" y="730" width="4" height="9" fill="#008000"/><rect x="1096" y="727" width="4" height="3" fill="#ff0000"/><rect x="1096" y="730" width="4" height="11" fill="#008000"/><rect x="1104" y="729" width="4" height="1" fill="#ff0000"/><rect x="1104" y="730" width="4" height="12" fill="#008000"/><rect x="1112" y="729" width="4" height="1" fill="#008000"/><rect x="1112" y="730" width="4" height="12" fill="#ff0000"/><rect x="1120" y="727" width="4" height="3" fill="#008000"/><rect x="1120" y="730" width="4" height="11" fill="#ff0000"/><rect x="1128" y="726" width="4" height="4" fill="#008000"/><rect x="1128" y="730" width="4" height="9" fill="#ff0000"/><rect x="1136" y="726" width="4" height="4" fill="#008000"/><rect x="1144" y="726" width="4" height="4" fill="#ff0000"/></g><g fill="#000"><rect x="2" y="2" width="1226" height="1"/><rect x="2" y="473" width="1226" height="1"/><rect x="2" y="2" width="1" height="472"/><rect x="1227" y="2" width="1" height="472"/><rect x="2" y="475" width="1226" height="1"/><rect x="2" y="575" width="1226" height="1"/><rect x="2" y="475" width="1" height="101"/><rect x="1227" y="475" width="1" height="101"/><rect x="2" y="577" width="1226" height="1"/><rect x="2" y="677" width="1226" height="1"/><rect x="2" y="577" width="1" height="101"/><rect x="1227" y="577" width="1" height="101"/><rect x="2" y="679" width="1226" height="1"/><rect x="2" y="779" width="1226" height="1"/><rect x="2" y="679" width="1" height="101"/><rect x="1227" y="679" width="1" height="101"/><rect x="1228" y="25" width="4" height="1"/><rect x="1228" y="57" width="4" height="1"/><rect x="1228" y="89" width="4" height="1"/><rect x="1228" y="121" width="4" height="1"/><rect x="1228" y="153" width="4" height="1"/><rect x="1228" y="185" width="4" height="1"/><rect x="1228" y="217" width="4" height="1"/><rect x="1228" y="249" width="4" height="1"/><rect x="1228" y="281" width="4" height="1"/><rect x="1228" y="313" width="4" height="1"/><rect x="1228" y="345" width="4" height="1"/><rect x="1228" y="377" width="4" height="1"/><rect x="1228" y="409" width="4" height="1"/><rect x="1228" y="441" width="4" height="1"/><rect x="1228" y="476" width="4" height="1"/><rect x="1228" y="574" width="4" height="1"/><rect x="1228" y="578" width="4" height="1"/><rect x="1228" y="676" width="4" height="1"/><rect x="1228" y="680" width="4" height="1"/><rect x="1228" y="778" width="4" height="1"/><rect x="2" y="780" width="1" height="4"/><rect x="66" y="780" width="1" height="4"/><rect x="130" y="780" width="1" height="4"/><rect x="194" y="780" width="1" height="4"/><rect x="258" y="780" width="1" height="4"/><rect x="322" y="780" width="1" height="4"/><rect x="386" y="780" width="1" height="4"/><rect x="450" y="780" width="1" height="4"/><rect x="514" y="780" width="1" height="4"/><rect x="578" y="780" width="1" height="4"/><rect x="642" y="780" width="1" height="4"/><rect x="706" y="780" width="1" height="4"/><rect x="770" y="780" width="1" height="4"/><rect x="834" y="780" width="1" height="4"/><rect x="898" y="780" width="1" height="4"/><rect x="962" y="780" width="1" height="4"/><rect x="1026" y="780" width="1" height="4"/><rect x="1090" y="780" width="1" height="4"/></g><line x1="2" y1="521.5" x2="1229" y2="521.5" stroke="#e3e3e3" stroke-width="1" stroke-dasharray="3 3"/><rect x="2" y="521" width="1" height="1" fill="#000"/><rect x="1227" y="521" width="1" height="1" fill="#000"/><line x1="2" y1="637.5" x2="1229" y2="637.5" stroke="#e3e3e3" stroke-width="1" stroke-dasharray="3 3"/><rect x="2" y="637" width="1" height="1" fill="#000"/><rect x="1227" y="637" width="1" height="1" fill="#000"/><line x1="2" y1="730.5" x2="1229" y2="730.5" stroke="#e3e3e3" stroke-width="1" stroke-dasharray="3 3"/><rect x="2" y="730" width="1" height="1" fill="#000"/><rect x="1227" y="730" width="1" height="1" fill="#000"/><rect x="1230" y="226" width="39" height="11" fill="#cc0000"/><defs><filter id="th" x="-2%" y="-10%" width="104%" height="120%" color-interpolation-filters="sRGB"><feComponentTransfer><feFuncA type="gamma" exponent="0.6" amplitude="1" offset="0"/></feComponentTransfer></filter></defs><rect x="5" y="479" width="63" height="9" fill="#fff"/><rect x="5" y="581" width="62" height="9" fill="#fff"/><rect x="5" y="683" width="98" height="9" fill="#fff"/><g font-family="'DejaVu Sans Condensed', 'Liberation Sans', sans-serif" filter="url(#th)"><text x="1232.5" y="29" font-size="9.0px" fill="#000">6874.30</text><text x="1232.5" y="61" font-size="9.0px" fill="#000">6856.80</text><text x="1232.5" y="93" font-size="9.0px" fill="#000">6839.30</text><text x="1232.5" y="125" font-size="9.0px" fill="#000">6821.80</text><text x="1232.5" y="157" font-size="9.0px" fill="#000">6804.30</text><text x="1232.5" y="189" font-size="9.0px" fill="#000">6786.80</text><text x="1232.5" y="221" font-size="9.0px" fill="#000">6769.30</text><text x="1232.5" y="253" font-size="9.0px" fill="#000">6751.80</text><text x="1232.5" y="285" font-size="9.0px" fill="#000">6734.30</text><text x="1232.5" y="317" font-size="9.0px" fill="#000">6716.80</text><text x="1232.5" y="349" font-size="9.0px" fill="#000">6699.30</text><text x="1232.5" y="381" font-size="9.0px" fill="#000">6681.80</text><text x="1232.5" y="413" font-size="9.0px" fill="#000">6664.30</text><text x="1232.5" y="445" font-size="9.0px" fill="#000">6646.80</text><text x="1232.5" y="235" font-size="9.0px" fill="#fff">6761.66</text><text x="1232.5" y="484" font-size="9.0px" fill="#000">86.362</text><text x="1232.5" y="524" font-size="9.0px" fill="#000">0.000</text><text x="1232.5" y="573" font-size="9.0px" fill="#000">-102.303</text><text x="1232.5" y="586" font-size="9.0px" fill="#000">47.0862</text><text x="1232.5" y="640" font-size="9.0px" fill="#000">0.0000</text><text x="1232.5" y="675" font-size="9.0px" fill="#000">-30.9024</text><text x="1232.5" y="688" font-size="9.0px" fill="#000">49.309</text><text x="1232.5" y="733" font-size="9.0px" fill="#000">0.000</text><text x="1232.5" y="777" font-size="9.0px" fill="#000">-46.628</text><text x="5.5" y="488" font-size="9.4px" fill="#000">AOcust 25.939</text><text x="5.5" y="590" font-size="9.4px" fill="#000">ACcust 3.4936</text><text x="5.5" y="692" font-size="9.2px" fill="#000">GatorCust 4.351 -8.298</text><text x="1.7" y="792" font-size="9.4px" fill="#000">7 Nov 2025</text><text x="65" y="792" font-size="9.4px" fill="#000">7 Nov 17:00</text><text x="130.2" y="792" font-size="9.4px" fill="#000">10 Nov 02:00</text><text x="194.2" y="792" font-size="9.4px" fill="#000">10 Nov 10:00</text><text x="258.2" y="792" font-size="9.4px" fill="#000">10 Nov 18:00</text><text x="322.2" y="792" font-size="9.4px" fill="#000">11 Nov 03:00</text><text x="386.2" y="792" font-size="9.4px" fill="#000">11 Nov 11:00</text><text x="450.2" y="792" font-size="9.4px" fill="#000">11 Nov 19:00</text><text x="514.2" y="792" font-size="9.4px" fill="#000">12 Nov 04:00</text><text x="578.2" y="792" font-size="9.4px" fill="#000">12 Nov 12:00</text><text x="642.2" y="792" font-size="9.4px" fill="#000">12 Nov 20:00</text><text x="706.2" y="792" font-size="9.4px" fill="#000">13 Nov 05:00</text><text x="770.2" y="792" font-size="9.4px" fill="#000">13 Nov 13:00</text><text x="834.2" y="792" font-size="9.4px" fill="#000">13 Nov 21:00</text><text x="898.2" y="792" font-size="9.4px" fill="#000">14 Nov 06:00</text><text x="962.2" y="792" font-size="9.4px" fill="#000">14 Nov 14:00</text><text x="1026.2" y="792" font-size="9.4px" fill="#000">14 Nov 22:00</text><text x="1090.2" y="792" font-size="9.4px" fill="#000">17 Nov 07:00</text></g></svg>
</body></html>
